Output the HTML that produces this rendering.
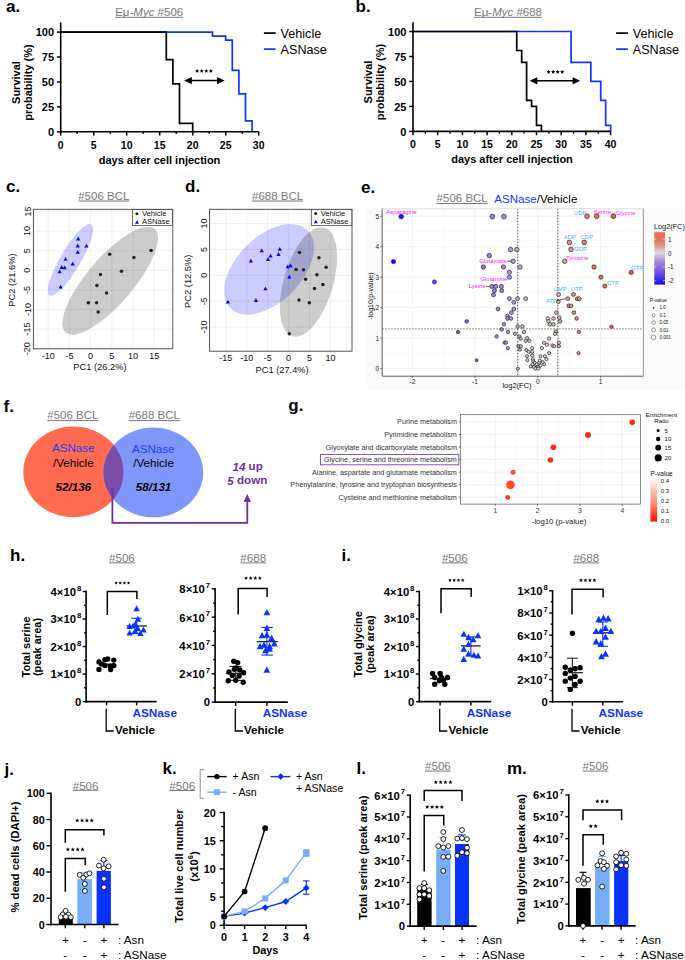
<!DOCTYPE html>
<html><head><meta charset="utf-8"><title>Figure</title>
<style>
html,body{margin:0;padding:0;background:#fff;}
body{width:685px;height:960px;overflow:hidden;}
svg{display:block;font-family:"Liberation Sans", sans-serif;}
</style></head><body>
<svg width="685" height="960" viewBox="0 0 685 960">
<rect x="0" y="0" width="685" height="960" fill="#fff"/>
<text x="6.00" y="12.00" font-size="17" font-weight="bold" fill="#000">a.</text>
<path d="M60.70,32.10 L212.50,32.10 L212.50,36.09 L225.70,36.09 L225.70,40.08 L232.30,40.08 L232.30,70.38 L238.90,70.38 L238.90,93.91 L245.50,93.91 L245.50,120.83 L252.10,120.83 L252.10,131.80 " stroke="#1234ff" stroke-width="1.7" fill="none" />
<path d="M60.70,32.10 L166.30,32.10 L166.30,59.72 L172.90,59.72 L172.90,83.94 L179.50,83.94 L179.50,123.33 L192.70,123.33 L192.70,131.80 " stroke="#000" stroke-width="1.7" fill="none" />
<line x1="60.70" y1="22.50" x2="60.70" y2="132.60" stroke="#000" stroke-width="1.6" />
<line x1="59.90" y1="131.80" x2="258.70" y2="131.80" stroke="#000" stroke-width="1.6" />
<line x1="56.90" y1="131.80" x2="60.70" y2="131.80" stroke="#000" stroke-width="1.5" />
<text x="54.10" y="132.10" font-size="11" text-anchor="end" dominant-baseline="central" fill="#000" style="font-weight:bold;" >0</text>
<line x1="56.90" y1="106.88" x2="60.70" y2="106.88" stroke="#000" stroke-width="1.5" />
<text x="54.10" y="107.18" font-size="11" text-anchor="end" dominant-baseline="central" fill="#000" style="font-weight:bold;" >25</text>
<line x1="56.90" y1="81.95" x2="60.70" y2="81.95" stroke="#000" stroke-width="1.5" />
<text x="54.10" y="82.25" font-size="11" text-anchor="end" dominant-baseline="central" fill="#000" style="font-weight:bold;" >50</text>
<line x1="56.90" y1="57.03" x2="60.70" y2="57.03" stroke="#000" stroke-width="1.5" />
<text x="54.10" y="57.33" font-size="11" text-anchor="end" dominant-baseline="central" fill="#000" style="font-weight:bold;" >75</text>
<line x1="56.90" y1="32.10" x2="60.70" y2="32.10" stroke="#000" stroke-width="1.5" />
<text x="54.10" y="32.40" font-size="11" text-anchor="end" dominant-baseline="central" fill="#000" style="font-weight:bold;" >100</text>
<line x1="60.70" y1="131.80" x2="60.70" y2="135.60" stroke="#000" stroke-width="1.5" />
<text x="60.70" y="144.60" font-size="10.5" text-anchor="middle" dominant-baseline="central" fill="#000" style="font-weight:bold;" >0</text>
<line x1="77.20" y1="131.80" x2="77.20" y2="134.10" stroke="#000" stroke-width="1.3" />
<line x1="93.70" y1="131.80" x2="93.70" y2="135.60" stroke="#000" stroke-width="1.5" />
<text x="93.70" y="144.60" font-size="10.5" text-anchor="middle" dominant-baseline="central" fill="#000" style="font-weight:bold;" >5</text>
<line x1="110.20" y1="131.80" x2="110.20" y2="134.10" stroke="#000" stroke-width="1.3" />
<line x1="126.70" y1="131.80" x2="126.70" y2="135.60" stroke="#000" stroke-width="1.5" />
<text x="126.70" y="144.60" font-size="10.5" text-anchor="middle" dominant-baseline="central" fill="#000" style="font-weight:bold;" >10</text>
<line x1="143.20" y1="131.80" x2="143.20" y2="134.10" stroke="#000" stroke-width="1.3" />
<line x1="159.70" y1="131.80" x2="159.70" y2="135.60" stroke="#000" stroke-width="1.5" />
<text x="159.70" y="144.60" font-size="10.5" text-anchor="middle" dominant-baseline="central" fill="#000" style="font-weight:bold;" >15</text>
<line x1="176.20" y1="131.80" x2="176.20" y2="134.10" stroke="#000" stroke-width="1.3" />
<line x1="192.70" y1="131.80" x2="192.70" y2="135.60" stroke="#000" stroke-width="1.5" />
<text x="192.70" y="144.60" font-size="10.5" text-anchor="middle" dominant-baseline="central" fill="#000" style="font-weight:bold;" >20</text>
<line x1="209.20" y1="131.80" x2="209.20" y2="134.10" stroke="#000" stroke-width="1.3" />
<line x1="225.70" y1="131.80" x2="225.70" y2="135.60" stroke="#000" stroke-width="1.5" />
<text x="225.70" y="144.60" font-size="10.5" text-anchor="middle" dominant-baseline="central" fill="#000" style="font-weight:bold;" >25</text>
<line x1="242.20" y1="131.80" x2="242.20" y2="134.10" stroke="#000" stroke-width="1.3" />
<line x1="258.70" y1="131.80" x2="258.70" y2="135.60" stroke="#000" stroke-width="1.5" />
<text x="258.70" y="144.60" font-size="10.5" text-anchor="middle" dominant-baseline="central" fill="#000" style="font-weight:bold;" >30</text>
<text x="159.50" y="159.80" font-size="11" text-anchor="middle" dominant-baseline="central" fill="#000" style="font-weight:bold;" >days after cell injection</text>
<text x="16.40" y="82.55" font-size="11" text-anchor="middle" dominant-baseline="central" fill="#000" style="font-weight:bold;" transform="rotate(-90 16.40 82.55)" >Survival</text>
<text x="28.30" y="82.55" font-size="11" text-anchor="middle" dominant-baseline="central" fill="#000" style="font-weight:bold;" transform="rotate(-90 28.30 82.55)" >probability (%)</text>
<line x1="188.20" y1="80.60" x2="220.70" y2="80.60" stroke="#000" stroke-width="1.5" />
<path d="M184.20,80.60 L191.80,77.00 L191.80,84.20 Z" stroke="#000" stroke-width="0" fill="#000" />
<path d="M224.70,80.60 L217.10,77.00 L217.10,84.20 Z" stroke="#000" stroke-width="0" fill="#000" />
<polygon points="197.18,68.86 197.77,70.25 199.27,70.38 198.14,71.38 198.47,72.84 197.18,72.08 195.88,72.84 196.21,71.38 195.08,70.38 196.58,70.25" fill="#000"/>
<polygon points="201.73,68.86 202.32,70.25 203.82,70.38 202.69,71.38 203.02,72.84 201.73,72.08 200.43,72.84 200.76,71.38 199.63,70.38 201.13,70.25" fill="#000"/>
<polygon points="206.28,68.86 206.87,70.25 208.37,70.38 207.24,71.38 207.57,72.84 206.28,72.08 204.98,72.84 205.31,71.38 204.18,70.38 205.68,70.25" fill="#000"/>
<polygon points="210.83,68.86 211.42,70.25 212.92,70.38 211.79,71.38 212.12,72.84 210.83,72.08 209.53,72.84 209.86,71.38 208.73,70.38 210.23,70.25" fill="#000"/>
<line x1="263.90" y1="33.10" x2="275.70" y2="33.10" stroke="#000" stroke-width="1.7" />
<text x="280.60" y="33.80" font-size="12.6" text-anchor="start" dominant-baseline="central" fill="#000" style="" >Vehicle</text>
<line x1="263.90" y1="49.10" x2="275.70" y2="49.10" stroke="#1234ff" stroke-width="1.7" />
<text x="280.60" y="49.80" font-size="12.6" text-anchor="start" dominant-baseline="central" fill="#000" style="" >ASNase</text>
<text x="149.20" y="11.7" font-size="11.5" text-anchor="middle" dominant-baseline="central" fill="#7a7a7a">Eμ-<tspan font-style="italic">Myc</tspan> #506</text>
<line x1="115.21" y1="17.30" x2="183.19" y2="17.30" stroke="#7a7a7a" stroke-width="1.0" />
<text x="355.50" y="12.00" font-size="17" font-weight="bold" fill="#000">b.</text>
<path d="M413.00,31.50 L571.08,31.50 L571.08,62.47 L590.84,62.47 L590.84,81.45 L600.72,81.45 L600.72,100.43 L605.66,100.43 L605.66,125.41 L610.60,125.41 L610.60,131.40 " stroke="#1234ff" stroke-width="1.7" fill="none" />
<path d="M413.00,31.50 L516.74,31.50 L516.74,50.48 L521.68,50.48 L521.68,62.47 L526.62,62.47 L526.62,100.43 L531.56,100.43 L531.56,106.43 L536.50,106.43 L536.50,125.41 L541.44,125.41 L541.44,131.40 " stroke="#000" stroke-width="1.7" fill="none" />
<line x1="413.00" y1="22.30" x2="413.00" y2="132.20" stroke="#000" stroke-width="1.6" />
<line x1="412.20" y1="131.40" x2="610.60" y2="131.40" stroke="#000" stroke-width="1.6" />
<line x1="409.20" y1="131.40" x2="413.00" y2="131.40" stroke="#000" stroke-width="1.5" />
<text x="406.40" y="131.70" font-size="11" text-anchor="end" dominant-baseline="central" fill="#000" style="font-weight:bold;" >0</text>
<line x1="409.20" y1="106.43" x2="413.00" y2="106.43" stroke="#000" stroke-width="1.5" />
<text x="406.40" y="106.73" font-size="11" text-anchor="end" dominant-baseline="central" fill="#000" style="font-weight:bold;" >25</text>
<line x1="409.20" y1="81.45" x2="413.00" y2="81.45" stroke="#000" stroke-width="1.5" />
<text x="406.40" y="81.75" font-size="11" text-anchor="end" dominant-baseline="central" fill="#000" style="font-weight:bold;" >50</text>
<line x1="409.20" y1="56.48" x2="413.00" y2="56.48" stroke="#000" stroke-width="1.5" />
<text x="406.40" y="56.78" font-size="11" text-anchor="end" dominant-baseline="central" fill="#000" style="font-weight:bold;" >75</text>
<line x1="409.20" y1="31.50" x2="413.00" y2="31.50" stroke="#000" stroke-width="1.5" />
<text x="406.40" y="31.80" font-size="11" text-anchor="end" dominant-baseline="central" fill="#000" style="font-weight:bold;" >100</text>
<line x1="413.00" y1="131.40" x2="413.00" y2="135.20" stroke="#000" stroke-width="1.5" />
<text x="413.00" y="144.20" font-size="10.5" text-anchor="middle" dominant-baseline="central" fill="#000" style="font-weight:bold;" >0</text>
<line x1="425.35" y1="131.40" x2="425.35" y2="133.70" stroke="#000" stroke-width="1.3" />
<line x1="437.70" y1="131.40" x2="437.70" y2="135.20" stroke="#000" stroke-width="1.5" />
<text x="437.70" y="144.20" font-size="10.5" text-anchor="middle" dominant-baseline="central" fill="#000" style="font-weight:bold;" >5</text>
<line x1="450.05" y1="131.40" x2="450.05" y2="133.70" stroke="#000" stroke-width="1.3" />
<line x1="462.40" y1="131.40" x2="462.40" y2="135.20" stroke="#000" stroke-width="1.5" />
<text x="462.40" y="144.20" font-size="10.5" text-anchor="middle" dominant-baseline="central" fill="#000" style="font-weight:bold;" >10</text>
<line x1="474.75" y1="131.40" x2="474.75" y2="133.70" stroke="#000" stroke-width="1.3" />
<line x1="487.10" y1="131.40" x2="487.10" y2="135.20" stroke="#000" stroke-width="1.5" />
<text x="487.10" y="144.20" font-size="10.5" text-anchor="middle" dominant-baseline="central" fill="#000" style="font-weight:bold;" >15</text>
<line x1="499.45" y1="131.40" x2="499.45" y2="133.70" stroke="#000" stroke-width="1.3" />
<line x1="511.80" y1="131.40" x2="511.80" y2="135.20" stroke="#000" stroke-width="1.5" />
<text x="511.80" y="144.20" font-size="10.5" text-anchor="middle" dominant-baseline="central" fill="#000" style="font-weight:bold;" >20</text>
<line x1="524.15" y1="131.40" x2="524.15" y2="133.70" stroke="#000" stroke-width="1.3" />
<line x1="536.50" y1="131.40" x2="536.50" y2="135.20" stroke="#000" stroke-width="1.5" />
<text x="536.50" y="144.20" font-size="10.5" text-anchor="middle" dominant-baseline="central" fill="#000" style="font-weight:bold;" >25</text>
<line x1="548.85" y1="131.40" x2="548.85" y2="133.70" stroke="#000" stroke-width="1.3" />
<line x1="561.20" y1="131.40" x2="561.20" y2="135.20" stroke="#000" stroke-width="1.5" />
<text x="561.20" y="144.20" font-size="10.5" text-anchor="middle" dominant-baseline="central" fill="#000" style="font-weight:bold;" >30</text>
<line x1="573.55" y1="131.40" x2="573.55" y2="133.70" stroke="#000" stroke-width="1.3" />
<line x1="585.90" y1="131.40" x2="585.90" y2="135.20" stroke="#000" stroke-width="1.5" />
<text x="585.90" y="144.20" font-size="10.5" text-anchor="middle" dominant-baseline="central" fill="#000" style="font-weight:bold;" >35</text>
<line x1="598.25" y1="131.40" x2="598.25" y2="133.70" stroke="#000" stroke-width="1.3" />
<line x1="610.60" y1="131.40" x2="610.60" y2="135.20" stroke="#000" stroke-width="1.5" />
<text x="610.60" y="144.20" font-size="10.5" text-anchor="middle" dominant-baseline="central" fill="#000" style="font-weight:bold;" >40</text>
<text x="512.00" y="159.40" font-size="11" text-anchor="middle" dominant-baseline="central" fill="#000" style="font-weight:bold;" >days after cell injection</text>
<text x="368.00" y="82.05" font-size="11" text-anchor="middle" dominant-baseline="central" fill="#000" style="font-weight:bold;" transform="rotate(-90 368.00 82.05)" >Survival</text>
<text x="379.90" y="82.05" font-size="11" text-anchor="middle" dominant-baseline="central" fill="#000" style="font-weight:bold;" transform="rotate(-90 379.90 82.05)" >probability (%)</text>
<line x1="533.70" y1="80.80" x2="576.20" y2="80.80" stroke="#000" stroke-width="1.5" />
<path d="M529.70,80.80 L537.30,77.20 L537.30,84.40 Z" stroke="#000" stroke-width="0" fill="#000" />
<path d="M580.20,80.80 L572.60,77.20 L572.60,84.40 Z" stroke="#000" stroke-width="0" fill="#000" />
<polygon points="548.57,69.66 549.17,71.05 550.67,71.18 549.54,72.18 549.87,73.64 548.57,72.88 547.28,73.64 547.61,72.18 546.48,71.18 547.98,71.05" fill="#000"/>
<polygon points="553.12,69.66 553.72,71.05 555.22,71.18 554.09,72.18 554.42,73.64 553.12,72.88 551.83,73.64 552.16,72.18 551.03,71.18 552.53,71.05" fill="#000"/>
<polygon points="557.67,69.66 558.27,71.05 559.77,71.18 558.64,72.18 558.97,73.64 557.67,72.88 556.38,73.64 556.71,72.18 555.58,71.18 557.08,71.05" fill="#000"/>
<polygon points="562.22,69.66 562.82,71.05 564.32,71.18 563.19,72.18 563.52,73.64 562.22,72.88 560.93,73.64 561.26,72.18 560.13,71.18 561.63,71.05" fill="#000"/>
<line x1="616.10" y1="33.10" x2="627.90" y2="33.10" stroke="#000" stroke-width="1.7" />
<text x="632.80" y="33.80" font-size="12.6" text-anchor="start" dominant-baseline="central" fill="#000" style="" >Vehicle</text>
<line x1="616.10" y1="49.10" x2="627.90" y2="49.10" stroke="#1234ff" stroke-width="1.7" />
<text x="632.80" y="49.80" font-size="12.6" text-anchor="start" dominant-baseline="central" fill="#000" style="" >ASNase</text>
<text x="508.00" y="11.7" font-size="11.5" text-anchor="middle" dominant-baseline="central" fill="#7a7a7a">Eμ-<tspan font-style="italic">Myc</tspan> #688</text>
<line x1="474.01" y1="17.30" x2="541.99" y2="17.30" stroke="#7a7a7a" stroke-width="1.0" />
<text x="6.00" y="192.00" font-size="17" font-weight="bold" fill="#000">c.</text>
<line x1="48.20" y1="209.30" x2="48.20" y2="348.80" stroke="#e6e6e6" stroke-width="0.6" />
<line x1="69.40" y1="209.30" x2="69.40" y2="348.80" stroke="#e6e6e6" stroke-width="0.6" />
<line x1="90.60" y1="209.30" x2="90.60" y2="348.80" stroke="#e6e6e6" stroke-width="0.6" />
<line x1="111.80" y1="209.30" x2="111.80" y2="348.80" stroke="#e6e6e6" stroke-width="0.6" />
<line x1="133.00" y1="209.30" x2="133.00" y2="348.80" stroke="#e6e6e6" stroke-width="0.6" />
<line x1="154.20" y1="209.30" x2="154.20" y2="348.80" stroke="#e6e6e6" stroke-width="0.6" />
<line x1="33.40" y1="348.70" x2="172.80" y2="348.70" stroke="#e6e6e6" stroke-width="0.6" />
<line x1="33.40" y1="329.10" x2="172.80" y2="329.10" stroke="#e6e6e6" stroke-width="0.6" />
<line x1="33.40" y1="309.50" x2="172.80" y2="309.50" stroke="#e6e6e6" stroke-width="0.6" />
<line x1="33.40" y1="289.90" x2="172.80" y2="289.90" stroke="#e6e6e6" stroke-width="0.6" />
<line x1="33.40" y1="270.30" x2="172.80" y2="270.30" stroke="#e6e6e6" stroke-width="0.6" />
<line x1="33.40" y1="250.70" x2="172.80" y2="250.70" stroke="#e6e6e6" stroke-width="0.6" />
<line x1="33.40" y1="231.10" x2="172.80" y2="231.10" stroke="#e6e6e6" stroke-width="0.6" />
<line x1="33.40" y1="211.50" x2="172.80" y2="211.50" stroke="#e6e6e6" stroke-width="0.6" />
<ellipse cx="70.4" cy="259.9" rx="41.2" ry="10.2" transform="rotate(-59.5 70.4 259.9)" fill="rgba(0,0,255,0.2)"/>
<ellipse cx="110.2" cy="280.75" rx="68.3" ry="23.2" transform="rotate(-49.4 110.2 280.75)" fill="rgba(0,0,0,0.2)"/>
<circle cx="109.70" cy="254.30" r="1.75" fill="#222" stroke="none" stroke-width="0" />
<circle cx="151.10" cy="250.40" r="1.75" fill="#222" stroke="none" stroke-width="0" />
<circle cx="133.90" cy="257.50" r="1.75" fill="#222" stroke="none" stroke-width="0" />
<circle cx="121.50" cy="271.20" r="1.75" fill="#222" stroke="none" stroke-width="0" />
<circle cx="100.40" cy="274.60" r="1.75" fill="#222" stroke="none" stroke-width="0" />
<circle cx="96.90" cy="285.40" r="1.75" fill="#222" stroke="none" stroke-width="0" />
<circle cx="106.50" cy="293.00" r="1.75" fill="#222" stroke="none" stroke-width="0" />
<circle cx="88.30" cy="302.80" r="1.75" fill="#222" stroke="none" stroke-width="0" />
<circle cx="96.60" cy="302.80" r="1.75" fill="#222" stroke="none" stroke-width="0" />
<circle cx="98.20" cy="312.00" r="1.75" fill="#222" stroke="none" stroke-width="0" />
<path d="M76.10,240.39 L80.30,240.39 L78.20,236.61 Z" fill="#0000ff"/>
<path d="M75.60,247.39 L79.80,247.39 L77.70,243.61 Z" fill="#0000ff"/>
<path d="M84.40,247.59 L88.60,247.59 L86.50,243.81 Z" fill="#0000ff"/>
<path d="M75.60,253.79 L79.80,253.79 L77.70,250.01 Z" fill="#0000ff"/>
<path d="M63.40,260.79 L67.60,260.79 L65.50,257.01 Z" fill="#0000ff"/>
<path d="M70.60,265.39 L74.80,265.39 L72.70,261.61 Z" fill="#0000ff"/>
<path d="M59.60,268.89 L63.80,268.89 L61.70,265.11 Z" fill="#0000ff"/>
<path d="M62.50,269.29 L66.70,269.29 L64.60,265.51 Z" fill="#0000ff"/>
<path d="M57.50,273.29 L61.70,273.29 L59.60,269.51 Z" fill="#0000ff"/>
<path d="M58.60,288.59 L62.80,288.59 L60.70,284.81 Z" fill="#0000ff"/>
<rect x="33.40" y="209.30" width="139.40" height="139.50" fill="none" stroke="#444" stroke-width="0.9" />
<text x="48.20" y="355.90" font-size="9.0" text-anchor="middle" dominant-baseline="central" fill="#111" style="" >-10</text>
<text x="69.40" y="355.90" font-size="9.0" text-anchor="middle" dominant-baseline="central" fill="#111" style="" >-5</text>
<text x="90.60" y="355.90" font-size="9.0" text-anchor="middle" dominant-baseline="central" fill="#111" style="" >0</text>
<text x="111.80" y="355.90" font-size="9.0" text-anchor="middle" dominant-baseline="central" fill="#111" style="" >5</text>
<text x="133.00" y="355.90" font-size="9.0" text-anchor="middle" dominant-baseline="central" fill="#111" style="" >10</text>
<text x="154.20" y="355.90" font-size="9.0" text-anchor="middle" dominant-baseline="central" fill="#111" style="" >15</text>
<text x="27.50" y="348.70" font-size="9.0" text-anchor="middle" dominant-baseline="central" fill="#111" style="" transform="rotate(-90 27.50 348.70)" >-20</text>
<text x="27.50" y="329.10" font-size="9.0" text-anchor="middle" dominant-baseline="central" fill="#111" style="" transform="rotate(-90 27.50 329.10)" >-15</text>
<text x="27.50" y="309.50" font-size="9.0" text-anchor="middle" dominant-baseline="central" fill="#111" style="" transform="rotate(-90 27.50 309.50)" >-10</text>
<text x="27.50" y="289.90" font-size="9.0" text-anchor="middle" dominant-baseline="central" fill="#111" style="" transform="rotate(-90 27.50 289.90)" >-5</text>
<text x="27.50" y="270.30" font-size="9.0" text-anchor="middle" dominant-baseline="central" fill="#111" style="" transform="rotate(-90 27.50 270.30)" >0</text>
<text x="27.50" y="250.70" font-size="9.0" text-anchor="middle" dominant-baseline="central" fill="#111" style="" transform="rotate(-90 27.50 250.70)" >5</text>
<text x="27.50" y="231.10" font-size="9.0" text-anchor="middle" dominant-baseline="central" fill="#111" style="" transform="rotate(-90 27.50 231.10)" >10</text>
<text x="27.50" y="211.50" font-size="9.0" text-anchor="middle" dominant-baseline="central" fill="#111" style="" transform="rotate(-90 27.50 211.50)" >15</text>
<text x="99.90" y="367.40" font-size="9.3" text-anchor="middle" dominant-baseline="central" fill="#111" style="" >PC1 (26.2%)</text>
<text x="11.70" y="280.05" font-size="9.3" text-anchor="middle" dominant-baseline="central" fill="#111" style="" transform="rotate(-90 11.70 280.05)" >PC2 (21.6%)</text>
<rect x="132.50" y="209.70" width="39.90" height="15.90" fill="#fff" stroke="#333" stroke-width="0.7" />
<circle cx="136.90" cy="213.70" r="1.5" fill="#222" stroke="none" stroke-width="0" />
<text x="141.90" y="213.60" font-size="7.6" text-anchor="start" dominant-baseline="central" fill="#111" style="" >Vehicle</text>
<path d="M135.05,223.65 L138.95,223.65 L137.00,220.14 Z" fill="#0000ff"/>
<text x="141.90" y="221.40" font-size="7.6" text-anchor="start" dominant-baseline="central" fill="#111" style="" >ASNase</text>
<text x="103.80" y="195.70" font-size="11.5" text-anchor="middle" dominant-baseline="central" fill="#7a7a7a" style="" >#506 BCL</text>
<line x1="78.23" y1="201.00" x2="129.37" y2="201.00" stroke="#7a7a7a" stroke-width="1.0" />
<text x="185.00" y="192.00" font-size="17" font-weight="bold" fill="#000">d.</text>
<line x1="225.75" y1="209.30" x2="225.75" y2="351.20" stroke="#e6e6e6" stroke-width="0.6" />
<line x1="246.70" y1="209.30" x2="246.70" y2="351.20" stroke="#e6e6e6" stroke-width="0.6" />
<line x1="267.65" y1="209.30" x2="267.65" y2="351.20" stroke="#e6e6e6" stroke-width="0.6" />
<line x1="288.60" y1="209.30" x2="288.60" y2="351.20" stroke="#e6e6e6" stroke-width="0.6" />
<line x1="309.55" y1="209.30" x2="309.55" y2="351.20" stroke="#e6e6e6" stroke-width="0.6" />
<line x1="330.50" y1="209.30" x2="330.50" y2="351.20" stroke="#e6e6e6" stroke-width="0.6" />
<line x1="209.60" y1="327.10" x2="352.00" y2="327.10" stroke="#e6e6e6" stroke-width="0.6" />
<line x1="209.60" y1="301.20" x2="352.00" y2="301.20" stroke="#e6e6e6" stroke-width="0.6" />
<line x1="209.60" y1="275.30" x2="352.00" y2="275.30" stroke="#e6e6e6" stroke-width="0.6" />
<line x1="209.60" y1="249.40" x2="352.00" y2="249.40" stroke="#e6e6e6" stroke-width="0.6" />
<line x1="209.60" y1="223.50" x2="352.00" y2="223.50" stroke="#e6e6e6" stroke-width="0.6" />
<ellipse cx="269.1" cy="269.3" rx="54.8" ry="32.6" transform="rotate(-45.5 269.1 269.3)" fill="rgba(0,0,255,0.2)"/>
<ellipse cx="308.5" cy="281.9" rx="56.6" ry="24.7" transform="rotate(-73.5 308.5 281.9)" fill="rgba(0,0,0,0.2)"/>
<circle cx="299.50" cy="252.50" r="1.75" fill="#222" stroke="none" stroke-width="0" />
<circle cx="319.00" cy="257.80" r="1.75" fill="#222" stroke="none" stroke-width="0" />
<circle cx="296.10" cy="269.60" r="1.75" fill="#222" stroke="none" stroke-width="0" />
<circle cx="303.50" cy="269.80" r="1.75" fill="#222" stroke="none" stroke-width="0" />
<circle cx="326.10" cy="267.20" r="1.75" fill="#222" stroke="none" stroke-width="0" />
<circle cx="305.60" cy="279.30" r="1.75" fill="#222" stroke="none" stroke-width="0" />
<circle cx="316.90" cy="274.80" r="1.75" fill="#222" stroke="none" stroke-width="0" />
<circle cx="322.90" cy="284.60" r="1.75" fill="#222" stroke="none" stroke-width="0" />
<circle cx="314.50" cy="288.50" r="1.75" fill="#222" stroke="none" stroke-width="0" />
<circle cx="299.00" cy="300.00" r="1.75" fill="#222" stroke="none" stroke-width="0" />
<circle cx="309.30" cy="302.70" r="1.75" fill="#222" stroke="none" stroke-width="0" />
<circle cx="289.30" cy="333.70" r="1.75" fill="#222" stroke="none" stroke-width="0" />
<path d="M277.70,250.69 L281.90,250.69 L279.80,246.91 Z" fill="#0000ff"/>
<path d="M259.60,252.19 L263.80,252.19 L261.70,248.41 Z" fill="#0000ff"/>
<path d="M268.50,257.49 L272.70,257.49 L270.60,253.71 Z" fill="#0000ff"/>
<path d="M265.90,260.89 L270.10,260.89 L268.00,257.11 Z" fill="#0000ff"/>
<path d="M276.40,255.89 L280.60,255.89 L278.50,252.11 Z" fill="#0000ff"/>
<path d="M248.80,262.49 L253.00,262.49 L250.90,258.71 Z" fill="#0000ff"/>
<path d="M285.60,268.29 L289.80,268.29 L287.70,264.51 Z" fill="#0000ff"/>
<path d="M288.30,267.19 L292.50,267.19 L290.40,263.41 Z" fill="#0000ff"/>
<path d="M287.20,278.49 L291.40,278.49 L289.30,274.71 Z" fill="#0000ff"/>
<path d="M263.30,290.29 L267.50,290.29 L265.40,286.51 Z" fill="#0000ff"/>
<path d="M253.80,301.89 L258.00,301.89 L255.90,298.11 Z" fill="#0000ff"/>
<path d="M225.70,303.49 L229.90,303.49 L227.80,299.71 Z" fill="#0000ff"/>
<rect x="209.60" y="209.30" width="142.40" height="141.90" fill="none" stroke="#444" stroke-width="0.9" />
<text x="225.75" y="358.00" font-size="9.0" text-anchor="middle" dominant-baseline="central" fill="#111" style="" >-15</text>
<text x="246.70" y="358.00" font-size="9.0" text-anchor="middle" dominant-baseline="central" fill="#111" style="" >-10</text>
<text x="267.65" y="358.00" font-size="9.0" text-anchor="middle" dominant-baseline="central" fill="#111" style="" >-5</text>
<text x="288.60" y="358.00" font-size="9.0" text-anchor="middle" dominant-baseline="central" fill="#111" style="" >0</text>
<text x="309.55" y="358.00" font-size="9.0" text-anchor="middle" dominant-baseline="central" fill="#111" style="" >5</text>
<text x="330.50" y="358.00" font-size="9.0" text-anchor="middle" dominant-baseline="central" fill="#111" style="" >10</text>
<text x="203.80" y="327.10" font-size="9.0" text-anchor="middle" dominant-baseline="central" fill="#111" style="" transform="rotate(-90 203.80 327.10)" >-10</text>
<text x="203.80" y="301.20" font-size="9.0" text-anchor="middle" dominant-baseline="central" fill="#111" style="" transform="rotate(-90 203.80 301.20)" >-5</text>
<text x="203.80" y="275.30" font-size="9.0" text-anchor="middle" dominant-baseline="central" fill="#111" style="" transform="rotate(-90 203.80 275.30)" >0</text>
<text x="203.80" y="249.40" font-size="9.0" text-anchor="middle" dominant-baseline="central" fill="#111" style="" transform="rotate(-90 203.80 249.40)" >5</text>
<text x="203.80" y="223.50" font-size="9.0" text-anchor="middle" dominant-baseline="central" fill="#111" style="" transform="rotate(-90 203.80 223.50)" >10</text>
<text x="282.10" y="369.70" font-size="9.3" text-anchor="middle" dominant-baseline="central" fill="#111" style="" >PC1 (27.4%)</text>
<text x="188.00" y="281.25" font-size="9.3" text-anchor="middle" dominant-baseline="central" fill="#111" style="" transform="rotate(-90 188.00 281.25)" >PC2 (12.5%)</text>
<rect x="311.30" y="209.40" width="40.50" height="16.20" fill="#fff" stroke="#333" stroke-width="0.7" />
<circle cx="315.70" cy="213.40" r="1.5" fill="#222" stroke="none" stroke-width="0" />
<text x="320.70" y="213.30" font-size="7.6" text-anchor="start" dominant-baseline="central" fill="#111" style="" >Vehicle</text>
<path d="M313.85,223.35 L317.75,223.35 L315.80,219.84 Z" fill="#0000ff"/>
<text x="320.70" y="221.10" font-size="7.6" text-anchor="start" dominant-baseline="central" fill="#111" style="" >ASNase</text>
<text x="277.60" y="195.70" font-size="11.5" text-anchor="middle" dominant-baseline="central" fill="#7a7a7a" style="" >#688 BCL</text>
<line x1="252.03" y1="201.00" x2="303.17" y2="201.00" stroke="#7a7a7a" stroke-width="1.0" />
<text x="361.00" y="192.50" font-size="17" font-weight="bold" fill="#000">e.</text>
<rect x="366.90" y="207.30" width="318.10" height="182.60" fill="#fbfbfb" stroke="none" stroke-width="0" />
<rect x="382.20" y="208.70" width="261.10" height="167.50" fill="#fff" stroke="none" stroke-width="0" />
<line x1="412.40" y1="208.70" x2="412.40" y2="376.20" stroke="#e6e6e6" stroke-width="0.5" />
<line x1="443.75" y1="208.70" x2="443.75" y2="376.20" stroke="#f0f0f0" stroke-width="0.35" />
<line x1="475.10" y1="208.70" x2="475.10" y2="376.20" stroke="#e6e6e6" stroke-width="0.5" />
<line x1="506.45" y1="208.70" x2="506.45" y2="376.20" stroke="#f0f0f0" stroke-width="0.35" />
<line x1="537.80" y1="208.70" x2="537.80" y2="376.20" stroke="#e6e6e6" stroke-width="0.5" />
<line x1="569.15" y1="208.70" x2="569.15" y2="376.20" stroke="#f0f0f0" stroke-width="0.35" />
<line x1="600.50" y1="208.70" x2="600.50" y2="376.20" stroke="#e6e6e6" stroke-width="0.5" />
<line x1="631.85" y1="208.70" x2="631.85" y2="376.20" stroke="#f0f0f0" stroke-width="0.35" />
<line x1="382.20" y1="368.50" x2="643.30" y2="368.50" stroke="#e6e6e6" stroke-width="0.5" />
<line x1="382.20" y1="353.27" x2="643.30" y2="353.27" stroke="#f0f0f0" stroke-width="0.35" />
<line x1="382.20" y1="338.05" x2="643.30" y2="338.05" stroke="#e6e6e6" stroke-width="0.5" />
<line x1="382.20" y1="322.82" x2="643.30" y2="322.82" stroke="#f0f0f0" stroke-width="0.35" />
<line x1="382.20" y1="307.60" x2="643.30" y2="307.60" stroke="#e6e6e6" stroke-width="0.5" />
<line x1="382.20" y1="292.38" x2="643.30" y2="292.38" stroke="#f0f0f0" stroke-width="0.35" />
<line x1="382.20" y1="277.15" x2="643.30" y2="277.15" stroke="#e6e6e6" stroke-width="0.5" />
<line x1="382.20" y1="261.93" x2="643.30" y2="261.93" stroke="#f0f0f0" stroke-width="0.35" />
<line x1="382.20" y1="246.70" x2="643.30" y2="246.70" stroke="#e6e6e6" stroke-width="0.5" />
<line x1="382.20" y1="231.47" x2="643.30" y2="231.47" stroke="#f0f0f0" stroke-width="0.35" />
<line x1="382.20" y1="216.25" x2="643.30" y2="216.25" stroke="#e6e6e6" stroke-width="0.5" />
<line x1="517.74" y1="208.70" x2="517.74" y2="376.20" stroke="#222" stroke-width="0.8" stroke-dasharray="1.6,1.4"/>
<line x1="557.86" y1="208.70" x2="557.86" y2="376.20" stroke="#222" stroke-width="0.8" stroke-dasharray="1.6,1.4"/>
<line x1="382.20" y1="328.88" x2="643.30" y2="328.88" stroke="#555" stroke-width="0.8" stroke-dasharray="1.6,1.4"/>
<circle cx="401.20" cy="216.60" r="2.4" fill="#1e15f6" stroke="#2020a0" stroke-width="0.62" />
<circle cx="393.50" cy="261.60" r="2.2" fill="#0d09fb" stroke="#2020a0" stroke-width="0.62" />
<circle cx="434.40" cy="281.90" r="2.07" fill="#6446e1" stroke="#2020a0" stroke-width="0.62" />
<circle cx="466.70" cy="321.40" r="1.81" fill="#8462dd" stroke="#151515" stroke-width="0.62" />
<circle cx="458.00" cy="332.10" r="1.74" fill="#7b5ade" stroke="#151515" stroke-width="0.62" />
<circle cx="476.60" cy="360.20" r="1.55" fill="#8e6bdc" stroke="#151515" stroke-width="0.62" />
<circle cx="492.30" cy="216.60" r="2.4" fill="#9e7bdc" stroke="#151515" stroke-width="0.62" />
<circle cx="503.90" cy="216.60" r="2.4" fill="#aa8bd8" stroke="#151515" stroke-width="0.62" />
<circle cx="510.60" cy="249.60" r="2.28" fill="#b198d8" stroke="#151515" stroke-width="0.62" />
<circle cx="516.80" cy="249.60" r="2.28" fill="#b9a6d9" stroke="#151515" stroke-width="0.62" />
<circle cx="489.30" cy="255.60" r="2.24" fill="#9b78dc" stroke="#151515" stroke-width="0.62" />
<circle cx="513.10" cy="261.30" r="2.2" fill="#b49dd8" stroke="#151515" stroke-width="0.62" />
<circle cx="483.30" cy="267.00" r="2.17" fill="#9572dc" stroke="#151515" stroke-width="0.62" />
<circle cx="503.40" cy="267.00" r="2.17" fill="#a98ad8" stroke="#151515" stroke-width="0.62" />
<circle cx="520.00" cy="267.00" r="2.17" fill="#bdadda" stroke="#151515" stroke-width="0.62" />
<circle cx="509.40" cy="272.20" r="2.13" fill="#b095d8" stroke="#151515" stroke-width="0.62" />
<circle cx="509.40" cy="277.20" r="2.1" fill="#b095d8" stroke="#151515" stroke-width="0.62" />
<circle cx="491.80" cy="286.40" r="2.04" fill="#9e7bdc" stroke="#151515" stroke-width="0.62" />
<circle cx="495.70" cy="286.40" r="2.04" fill="#a27fdb" stroke="#151515" stroke-width="0.62" />
<circle cx="501.40" cy="286.40" r="2.04" fill="#a787d9" stroke="#151515" stroke-width="0.62" />
<circle cx="494.50" cy="290.60" r="2.01" fill="#a17edc" stroke="#151515" stroke-width="0.62" />
<circle cx="501.70" cy="290.60" r="2.01" fill="#a788d9" stroke="#151515" stroke-width="0.62" />
<circle cx="493.50" cy="294.80" r="1.98" fill="#a07ddc" stroke="#151515" stroke-width="0.62" />
<circle cx="509.40" cy="298.60" r="1.96" fill="#b095d8" stroke="#151515" stroke-width="0.62" />
<circle cx="517.60" cy="298.60" r="1.96" fill="#baa8d9" stroke="#151515" stroke-width="0.62" />
<circle cx="525.70" cy="298.60" r="1.96" fill="#c7bbdb" stroke="#151515" stroke-width="0.62" />
<circle cx="513.80" cy="302.30" r="1.93" fill="#b59fd8" stroke="#151515" stroke-width="0.62" />
<circle cx="498.00" cy="309.00" r="1.89" fill="#a483da" stroke="#151515" stroke-width="0.62" />
<circle cx="513.80" cy="309.00" r="1.89" fill="#b59fd8" stroke="#151515" stroke-width="0.62" />
<circle cx="511.40" cy="312.60" r="1.87" fill="#b299d8" stroke="#151515" stroke-width="0.62" />
<circle cx="507.50" cy="316.00" r="1.84" fill="#ad90d7" stroke="#151515" stroke-width="0.62" />
<circle cx="507.50" cy="318.50" r="1.83" fill="#ad90d7" stroke="#151515" stroke-width="0.62" />
<circle cx="510.90" cy="318.50" r="1.83" fill="#b298d8" stroke="#151515" stroke-width="0.62" />
<circle cx="503.90" cy="324.30" r="1.79" fill="#aa8bd8" stroke="#151515" stroke-width="0.62" />
<circle cx="501.70" cy="329.40" r="1.76" fill="#a788d9" stroke="#151515" stroke-width="0.62" />
<circle cx="517.70" cy="326.50" r="1.78" fill="#baa8d9" stroke="#151515" stroke-width="0.62" />
<circle cx="522.40" cy="326.50" r="1.78" fill="#c1b3da" stroke="#151515" stroke-width="0.62" />
<circle cx="508.00" cy="332.00" r="1.74" fill="#ae92d7" stroke="#151515" stroke-width="0.62" />
<circle cx="515.10" cy="333.80" r="1.73" fill="#b7a2d9" stroke="#151515" stroke-width="0.62" />
<circle cx="524.00" cy="331.90" r="1.74" fill="#c4b7da" stroke="#151515" stroke-width="0.62" />
<circle cx="496.60" cy="336.40" r="1.71" fill="#a381db" stroke="#151515" stroke-width="0.62" />
<circle cx="519.20" cy="336.40" r="1.71" fill="#bcabd9" stroke="#151515" stroke-width="0.62" />
<circle cx="520.70" cy="338.60" r="1.7" fill="#beafda" stroke="#151515" stroke-width="0.62" />
<circle cx="527.20" cy="338.20" r="1.7" fill="#cabfdb" stroke="#151515" stroke-width="0.62" />
<circle cx="529.40" cy="340.80" r="1.68" fill="#cec5dc" stroke="#151515" stroke-width="0.62" />
<circle cx="525.80" cy="340.80" r="1.68" fill="#c7bbdb" stroke="#151515" stroke-width="0.62" />
<circle cx="504.60" cy="342.60" r="1.67" fill="#aa8bd8" stroke="#151515" stroke-width="0.62" />
<circle cx="506.10" cy="342.60" r="1.67" fill="#ac8ed7" stroke="#151515" stroke-width="0.62" />
<circle cx="518.50" cy="346.20" r="1.65" fill="#bbaad9" stroke="#151515" stroke-width="0.62" />
<circle cx="520.70" cy="346.20" r="1.65" fill="#beafda" stroke="#151515" stroke-width="0.62" />
<circle cx="519.90" cy="349.60" r="1.62" fill="#bdadda" stroke="#151515" stroke-width="0.62" />
<circle cx="507.80" cy="348.10" r="1.63" fill="#ae91d7" stroke="#151515" stroke-width="0.62" />
<circle cx="526.30" cy="350.00" r="1.62" fill="#c8bddb" stroke="#151515" stroke-width="0.62" />
<circle cx="532.20" cy="348.10" r="1.63" fill="#d3ccdd" stroke="#151515" stroke-width="0.62" />
<circle cx="528.90" cy="351.80" r="1.61" fill="#cdc3dc" stroke="#151515" stroke-width="0.62" />
<circle cx="532.20" cy="351.80" r="1.61" fill="#d3ccdd" stroke="#151515" stroke-width="0.62" />
<circle cx="527.00" cy="356.20" r="1.55" fill="#c9bedb" stroke="#151515" stroke-width="0.62" />
<circle cx="532.20" cy="355.40" r="1.55" fill="#d3ccdd" stroke="#151515" stroke-width="0.62" />
<circle cx="527.40" cy="360.20" r="1.55" fill="#cabfdb" stroke="#151515" stroke-width="0.62" />
<circle cx="532.90" cy="359.10" r="1.55" fill="#d5cddd" stroke="#151515" stroke-width="0.62" />
<circle cx="533.20" cy="361.30" r="1.55" fill="#d5cedd" stroke="#151515" stroke-width="0.62" />
<circle cx="534.70" cy="362.70" r="1.55" fill="#d8d2dd" stroke="#151515" stroke-width="0.62" />
<circle cx="532.50" cy="364.20" r="1.55" fill="#d4ccdd" stroke="#151515" stroke-width="0.62" />
<circle cx="536.20" cy="365.70" r="1.55" fill="#dbd6de" stroke="#151515" stroke-width="0.62" />
<circle cx="534.00" cy="367.10" r="1.55" fill="#d7d0dd" stroke="#151515" stroke-width="0.62" />
<circle cx="535.40" cy="368.60" r="1.55" fill="#d9d4dd" stroke="#151515" stroke-width="0.62" />
<circle cx="538.40" cy="367.10" r="1.55" fill="#ded9dc" stroke="#151515" stroke-width="0.62" />
<circle cx="536.90" cy="364.20" r="1.55" fill="#dcd8de" stroke="#151515" stroke-width="0.62" />
<circle cx="539.10" cy="362.70" r="1.55" fill="#ded8db" stroke="#151515" stroke-width="0.62" />
<circle cx="539.80" cy="360.50" r="1.55" fill="#ded6d9" stroke="#151515" stroke-width="0.62" />
<circle cx="540.50" cy="365.70" r="1.55" fill="#ded5d7" stroke="#151515" stroke-width="0.62" />
<circle cx="538.40" cy="368.60" r="1.55" fill="#ded9dc" stroke="#151515" stroke-width="0.62" />
<circle cx="530.70" cy="366.40" r="1.55" fill="#d0c8dc" stroke="#151515" stroke-width="0.62" />
<circle cx="517.90" cy="368.60" r="1.55" fill="#bba8d9" stroke="#151515" stroke-width="0.62" />
<circle cx="540.50" cy="356.20" r="1.55" fill="#ded5d7" stroke="#151515" stroke-width="0.62" />
<circle cx="544.90" cy="356.20" r="1.55" fill="#ddcdcc" stroke="#151515" stroke-width="0.62" />
<circle cx="546.40" cy="359.10" r="1.55" fill="#ddcbc8" stroke="#151515" stroke-width="0.62" />
<circle cx="544.20" cy="364.20" r="1.55" fill="#ddcfce" stroke="#151515" stroke-width="0.62" />
<circle cx="542.70" cy="362.00" r="1.55" fill="#ddd1d1" stroke="#151515" stroke-width="0.62" />
<circle cx="542.00" cy="348.10" r="1.63" fill="#ddd2d3" stroke="#151515" stroke-width="0.62" />
<circle cx="587.00" cy="216.20" r="2.4" fill="#e47e66" stroke="#151515" stroke-width="0.62" />
<circle cx="596.70" cy="216.20" r="2.4" fill="#e7725a" stroke="#151515" stroke-width="0.62" />
<circle cx="613.40" cy="216.20" r="2.4" fill="#eb5c42" stroke="#151515" stroke-width="0.62" />
<circle cx="569.40" cy="242.40" r="2.33" fill="#d79b8b" stroke="#151515" stroke-width="0.62" />
<circle cx="584.30" cy="242.40" r="2.33" fill="#e3816a" stroke="#151515" stroke-width="0.62" />
<circle cx="571.00" cy="249.40" r="2.28" fill="#d89888" stroke="#151515" stroke-width="0.62" />
<circle cx="564.80" cy="261.30" r="2.2" fill="#d8a598" stroke="#151515" stroke-width="0.62" />
<circle cx="594.00" cy="267.00" r="2.17" fill="#e6755d" stroke="#151515" stroke-width="0.62" />
<circle cx="631.20" cy="272.40" r="2.13" fill="#ef5036" stroke="#151515" stroke-width="0.62" />
<circle cx="601.00" cy="277.20" r="2.1" fill="#e86d54" stroke="#151515" stroke-width="0.62" />
<circle cx="604.80" cy="286.10" r="2.04" fill="#e9684e" stroke="#151515" stroke-width="0.62" />
<circle cx="558.60" cy="294.50" r="1.99" fill="#dab3a8" stroke="#151515" stroke-width="0.62" />
<circle cx="573.50" cy="294.50" r="1.99" fill="#da9482" stroke="#151515" stroke-width="0.62" />
<circle cx="567.80" cy="298.60" r="1.96" fill="#d79e90" stroke="#151515" stroke-width="0.62" />
<circle cx="577.30" cy="298.80" r="1.96" fill="#dd8d7a" stroke="#151515" stroke-width="0.62" />
<circle cx="579.30" cy="298.80" r="1.96" fill="#df8a75" stroke="#151515" stroke-width="0.62" />
<circle cx="558.30" cy="301.60" r="1.94" fill="#dab3a9" stroke="#151515" stroke-width="0.62" />
<circle cx="568.80" cy="305.80" r="1.91" fill="#d79c8d" stroke="#151515" stroke-width="0.62" />
<circle cx="571.00" cy="305.80" r="1.91" fill="#d89888" stroke="#151515" stroke-width="0.62" />
<circle cx="556.40" cy="312.60" r="1.87" fill="#dbb7ae" stroke="#151515" stroke-width="0.62" />
<circle cx="573.90" cy="312.60" r="1.87" fill="#db9381" stroke="#151515" stroke-width="0.62" />
<circle cx="547.70" cy="318.50" r="1.83" fill="#ddc8c5" stroke="#151515" stroke-width="0.62" />
<circle cx="553.50" cy="318.50" r="1.83" fill="#dcbeb6" stroke="#151515" stroke-width="0.62" />
<circle cx="559.30" cy="317.70" r="1.83" fill="#dab1a6" stroke="#151515" stroke-width="0.62" />
<circle cx="576.60" cy="318.50" r="1.83" fill="#dd8e7b" stroke="#151515" stroke-width="0.62" />
<circle cx="548.40" cy="321.40" r="1.81" fill="#ddc7c3" stroke="#151515" stroke-width="0.62" />
<circle cx="560.10" cy="321.40" r="1.81" fill="#daafa4" stroke="#151515" stroke-width="0.62" />
<circle cx="549.90" cy="324.30" r="1.79" fill="#dcc4bf" stroke="#151515" stroke-width="0.62" />
<circle cx="553.50" cy="324.30" r="1.79" fill="#dcbeb6" stroke="#151515" stroke-width="0.62" />
<circle cx="556.00" cy="331.60" r="1.74" fill="#dbb8af" stroke="#151515" stroke-width="0.62" />
<circle cx="555.00" cy="333.80" r="1.73" fill="#dcbbb2" stroke="#151515" stroke-width="0.62" />
<circle cx="578.80" cy="331.90" r="1.74" fill="#de8a76" stroke="#151515" stroke-width="0.62" />
<circle cx="611.50" cy="326.70" r="1.77" fill="#eb5e44" stroke="#151515" stroke-width="0.62" />
<circle cx="549.10" cy="338.50" r="1.7" fill="#ddc6c1" stroke="#151515" stroke-width="0.62" />
<circle cx="544.00" cy="342.80" r="1.67" fill="#ddcfce" stroke="#151515" stroke-width="0.62" />
<circle cx="546.90" cy="344.70" r="1.66" fill="#ddcac7" stroke="#151515" stroke-width="0.62" />
<circle cx="552.50" cy="345.50" r="1.65" fill="#dcc0b8" stroke="#151515" stroke-width="0.62" />
<circle cx="554.20" cy="346.20" r="1.65" fill="#dcbcb4" stroke="#151515" stroke-width="0.62" />
<circle cx="558.90" cy="342.80" r="1.67" fill="#dab2a7" stroke="#151515" stroke-width="0.62" />
<circle cx="558.90" cy="346.20" r="1.65" fill="#dab2a7" stroke="#151515" stroke-width="0.62" />
<circle cx="549.10" cy="353.10" r="1.6" fill="#ddc6c1" stroke="#151515" stroke-width="0.62" />
<circle cx="578.50" cy="353.10" r="1.6" fill="#de8b77" stroke="#151515" stroke-width="0.62" />
<line x1="382.20" y1="208.70" x2="382.20" y2="376.20" stroke="#333" stroke-width="0.8" />
<line x1="382.20" y1="376.20" x2="643.30" y2="376.20" stroke="#333" stroke-width="0.8" />
<line x1="643.30" y1="208.70" x2="643.30" y2="376.20" stroke="#888" stroke-width="0.9" />
<line x1="382.20" y1="208.70" x2="643.30" y2="208.70" stroke="#d8d8d8" stroke-width="0.8" />
<line x1="380.20" y1="368.50" x2="382.20" y2="368.50" stroke="#333" stroke-width="0.6" />
<text x="379.20" y="368.50" font-size="6.5" text-anchor="end" dominant-baseline="central" fill="#222" style="" >0</text>
<line x1="380.20" y1="338.05" x2="382.20" y2="338.05" stroke="#333" stroke-width="0.6" />
<text x="379.20" y="338.05" font-size="6.5" text-anchor="end" dominant-baseline="central" fill="#222" style="" >1</text>
<line x1="380.20" y1="307.60" x2="382.20" y2="307.60" stroke="#333" stroke-width="0.6" />
<text x="379.20" y="307.60" font-size="6.5" text-anchor="end" dominant-baseline="central" fill="#222" style="" >2</text>
<line x1="380.20" y1="277.15" x2="382.20" y2="277.15" stroke="#333" stroke-width="0.6" />
<text x="379.20" y="277.15" font-size="6.5" text-anchor="end" dominant-baseline="central" fill="#222" style="" >3</text>
<line x1="380.20" y1="246.70" x2="382.20" y2="246.70" stroke="#333" stroke-width="0.6" />
<text x="379.20" y="246.70" font-size="6.5" text-anchor="end" dominant-baseline="central" fill="#222" style="" >4</text>
<line x1="380.20" y1="216.25" x2="382.20" y2="216.25" stroke="#333" stroke-width="0.6" />
<text x="379.20" y="216.25" font-size="6.5" text-anchor="end" dominant-baseline="central" fill="#222" style="" >5</text>
<line x1="412.40" y1="376.20" x2="412.40" y2="378.20" stroke="#333" stroke-width="0.6" />
<text x="412.40" y="381.20" font-size="6.5" text-anchor="middle" dominant-baseline="central" fill="#222" style="" >-2</text>
<line x1="475.10" y1="376.20" x2="475.10" y2="378.20" stroke="#333" stroke-width="0.6" />
<text x="475.10" y="381.20" font-size="6.5" text-anchor="middle" dominant-baseline="central" fill="#222" style="" >-1</text>
<line x1="537.80" y1="376.20" x2="537.80" y2="378.20" stroke="#333" stroke-width="0.6" />
<text x="537.80" y="381.20" font-size="6.5" text-anchor="middle" dominant-baseline="central" fill="#222" style="" >0</text>
<line x1="600.50" y1="376.20" x2="600.50" y2="378.20" stroke="#333" stroke-width="0.6" />
<text x="600.50" y="381.20" font-size="6.5" text-anchor="middle" dominant-baseline="central" fill="#222" style="" >1</text>
<text x="517.00" y="385.50" font-size="7.5" text-anchor="middle" dominant-baseline="central" fill="#111" style="" >log2(FC)</text>
<text x="370.80" y="296.00" font-size="7" text-anchor="middle" dominant-baseline="central" fill="#111" style="" transform="rotate(-90 370.80 296.00)" >-log10(p-value)</text>
<text x="386.30" y="212.30" font-size="6" text-anchor="start" dominant-baseline="central" fill="#f820f8" style="" >Asparagine</text>
<text x="506.90" y="260.80" font-size="6" text-anchor="end" dominant-baseline="central" fill="#f820f8" style="" >Glutamate</text>
<line x1="507.20" y1="261.10" x2="510.80" y2="261.20" stroke="#000" stroke-width="0.6" />
<text x="480.30" y="279.40" font-size="6" text-anchor="start" dominant-baseline="central" fill="#f820f8" style="" >Glutamine</text>
<text x="485.80" y="286.40" font-size="6" text-anchor="end" dominant-baseline="central" fill="#f820f8" style="" >Lysine</text>
<line x1="486.00" y1="286.50" x2="489.50" y2="286.40" stroke="#000" stroke-width="0.6" />
<text x="573.70" y="212.60" font-size="6" text-anchor="start" dominant-baseline="central" fill="#3ab6f5" style="" >UDP</text>
<text x="593.70" y="212.00" font-size="6" text-anchor="start" dominant-baseline="central" fill="#f820f8" style="" >Serine</text>
<text x="615.60" y="213.20" font-size="6" text-anchor="start" dominant-baseline="central" fill="#f820f8" style="" >Glycine</text>
<text x="563.70" y="237.40" font-size="6" text-anchor="start" dominant-baseline="central" fill="#3ab6f5" style="" >ADP</text>
<text x="580.50" y="237.40" font-size="6" text-anchor="start" dominant-baseline="central" fill="#3ab6f5" style="" >CDP</text>
<text x="574.00" y="249.40" font-size="6" text-anchor="start" dominant-baseline="central" fill="#3ab6f5" style="" >GDP</text>
<text x="565.90" y="258.00" font-size="6" text-anchor="start" dominant-baseline="central" fill="#f820f8" style="" >Tyrosine</text>
<text x="631.00" y="267.60" font-size="6" text-anchor="start" dominant-baseline="central" fill="#3ab6f5" style="" >GTP</text>
<text x="607.00" y="283.40" font-size="6" text-anchor="start" dominant-baseline="central" fill="#3ab6f5" style="" >CTP</text>
<text x="553.50" y="289.10" font-size="6" text-anchor="start" dominant-baseline="central" fill="#3ab6f5" style="" >UMP</text>
<text x="570.80" y="289.10" font-size="6" text-anchor="start" dominant-baseline="central" fill="#3ab6f5" style="" >UTP</text>
<text x="545.90" y="300.80" font-size="6" text-anchor="start" dominant-baseline="central" fill="#3ab6f5" style="" >ATP</text>
<line x1="557.00" y1="300.60" x2="565.50" y2="298.80" stroke="#000" stroke-width="0.6" />
<text x="462.20" y="198.20" font-size="11.5" text-anchor="middle" dominant-baseline="central" fill="#7a7a7a" style="" >#506 BCL</text>
<line x1="436.63" y1="203.50" x2="487.77" y2="203.50" stroke="#7a7a7a" stroke-width="1.0" />
<text x="494.2" y="198.2" font-size="11.6" dominant-baseline="central" fill="#000"><tspan fill="#1234ff">ASNase</tspan>/Vehicle</text>
<text x="654.00" y="226.00" font-size="7.3" text-anchor="start" dominant-baseline="central" fill="#111" style="" >Log2(FC)</text>
<defs><linearGradient id="fcg" x1="0" y1="0" x2="0" y2="1"><stop offset="0" stop-color="#ee6a50"/><stop offset="0.160" stop-color="#e6755d"/><stop offset="0.267" stop-color="#d79b8c"/><stop offset="0.333" stop-color="#dcbeb6"/><stop offset="0.400" stop-color="#dedade"/><stop offset="0.467" stop-color="#c0b2da"/><stop offset="0.560" stop-color="#a686da"/><stop offset="0.720" stop-color="#805ede"/><stop offset="1.000" stop-color="#140ef9"/></linearGradient></defs>
<rect x="654.30" y="232.20" width="10.70" height="52.40" fill="url(#fcg)" stroke="none" stroke-width="0" />
<line x1="654.30" y1="239.20" x2="656.30" y2="239.20" stroke="#fff" stroke-width="0.5" />
<line x1="663.00" y1="239.20" x2="665.00" y2="239.20" stroke="#fff" stroke-width="0.5" />
<text x="668.00" y="239.20" font-size="6.3" text-anchor="start" dominant-baseline="central" fill="#111" style="" >1</text>
<line x1="654.30" y1="253.00" x2="656.30" y2="253.00" stroke="#fff" stroke-width="0.5" />
<line x1="663.00" y1="253.00" x2="665.00" y2="253.00" stroke="#fff" stroke-width="0.5" />
<text x="668.00" y="253.00" font-size="6.3" text-anchor="start" dominant-baseline="central" fill="#111" style="" >0</text>
<line x1="654.30" y1="266.80" x2="656.30" y2="266.80" stroke="#fff" stroke-width="0.5" />
<line x1="663.00" y1="266.80" x2="665.00" y2="266.80" stroke="#fff" stroke-width="0.5" />
<text x="668.00" y="266.80" font-size="6.3" text-anchor="start" dominant-baseline="central" fill="#111" style="" >-1</text>
<line x1="654.30" y1="280.60" x2="656.30" y2="280.60" stroke="#fff" stroke-width="0.5" />
<line x1="663.00" y1="280.60" x2="665.00" y2="280.60" stroke="#fff" stroke-width="0.5" />
<text x="668.00" y="280.60" font-size="6.3" text-anchor="start" dominant-baseline="central" fill="#111" style="" >-2</text>
<text x="649.80" y="299.80" font-size="5" text-anchor="start" dominant-baseline="central" fill="#111" style="" >P-value</text>
<circle cx="653.60" cy="307.80" r="0.6" fill="#222" stroke="#222" stroke-width="0.45" />
<text x="659.40" y="307.80" font-size="4.6" text-anchor="start" dominant-baseline="central" fill="#111" style="" >1.0</text>
<circle cx="653.60" cy="315.10" r="1.5" fill="#fff" stroke="#222" stroke-width="0.45" />
<text x="659.40" y="315.10" font-size="4.6" text-anchor="start" dominant-baseline="central" fill="#111" style="" >0.1</text>
<circle cx="653.60" cy="322.60" r="1.75" fill="#fff" stroke="#222" stroke-width="0.45" />
<text x="659.40" y="322.60" font-size="4.6" text-anchor="start" dominant-baseline="central" fill="#111" style="" >0.05</text>
<circle cx="653.60" cy="330.00" r="2.0" fill="#fff" stroke="#222" stroke-width="0.45" />
<text x="659.40" y="330.00" font-size="4.6" text-anchor="start" dominant-baseline="central" fill="#111" style="" >0.01</text>
<circle cx="653.60" cy="337.30" r="2.3" fill="#fff" stroke="#222" stroke-width="0.45" />
<text x="659.40" y="337.30" font-size="4.6" text-anchor="start" dominant-baseline="central" fill="#111" style="" >0.001</text>
<text x="3.50" y="411.50" font-size="17" font-weight="bold" fill="#000">f.</text>
<text x="72.90" y="415.30" font-size="11.5" text-anchor="middle" dominant-baseline="central" fill="#7a7a7a" style="" >#506 BCL</text>
<line x1="47.33" y1="420.60" x2="98.47" y2="420.60" stroke="#7a7a7a" stroke-width="1.0" />
<text x="154.30" y="415.30" font-size="11.5" text-anchor="middle" dominant-baseline="central" fill="#7a7a7a" style="" >#688 BCL</text>
<line x1="128.73" y1="420.60" x2="179.87" y2="420.60" stroke="#7a7a7a" stroke-width="1.0" />
<defs><clipPath id="redc"><ellipse cx="73.4" cy="471.9" rx="50.1" ry="45.4"/></clipPath></defs>
<ellipse cx="73.4" cy="471.9" rx="50.1" ry="45.4" fill="#ff6a50"/>
<ellipse cx="153.3" cy="472.4" rx="49.9" ry="44.9" fill="#7f97fa"/>
<ellipse cx="153.3" cy="472.4" rx="49.9" ry="44.9" fill="#7c4ca6" clip-path="url(#redc)"/>
<text x="73.30" y="447.90" font-size="11.6" text-anchor="middle" dominant-baseline="central" fill="#2a3cf0" style="" >ASNase</text>
<text x="73.30" y="462.20" font-size="11.6" text-anchor="middle" dominant-baseline="central" fill="#000" style="" >/Vehicle</text>
<text x="73.30" y="486.30" font-size="11.6" text-anchor="middle" dominant-baseline="central" fill="#000" style="font-weight:bold;font-style:italic;" >52/136</text>
<text x="153.30" y="448.60" font-size="11.6" text-anchor="middle" dominant-baseline="central" fill="#1a3cff" style="" >ASNase</text>
<text x="153.60" y="462.80" font-size="11.6" text-anchor="middle" dominant-baseline="central" fill="#000" style="" >/Vehicle</text>
<text x="153.60" y="486.30" font-size="11.6" text-anchor="middle" dominant-baseline="central" fill="#000" style="font-weight:bold;font-style:italic;" >58/131</text>
<path d="M112.4,487.5 L112.4,522.9 L247.3,522.9 L247.3,501" stroke="#7030a0" stroke-width="1.8" fill="none" />
<path d="M247.3,493.9 L243.6,502.0 L251.0,502.0 Z" stroke="#000" stroke-width="0" fill="#7030a0" />
<text x="247.6" y="465.5" font-size="11.6" font-weight="bold" text-anchor="middle" dominant-baseline="central" fill="#7030a0"><tspan font-style="italic">14</tspan> up</text>
<text x="247.3" y="479.8" font-size="11.6" font-weight="bold" text-anchor="middle" dominant-baseline="central" fill="#7030a0"><tspan font-style="italic">5</tspan> down</text>
<text x="288.30" y="411.40" font-size="17" font-weight="bold" fill="#000">g.</text>
<line x1="474.15" y1="414.70" x2="474.15" y2="504.10" stroke="#f0f0f0" stroke-width="0.35" />
<line x1="495.30" y1="414.70" x2="495.30" y2="504.10" stroke="#e4e4e4" stroke-width="0.5" />
<line x1="516.45" y1="414.70" x2="516.45" y2="504.10" stroke="#f0f0f0" stroke-width="0.35" />
<line x1="537.60" y1="414.70" x2="537.60" y2="504.10" stroke="#e4e4e4" stroke-width="0.5" />
<line x1="558.75" y1="414.70" x2="558.75" y2="504.10" stroke="#f0f0f0" stroke-width="0.35" />
<line x1="579.90" y1="414.70" x2="579.90" y2="504.10" stroke="#e4e4e4" stroke-width="0.5" />
<line x1="601.05" y1="414.70" x2="601.05" y2="504.10" stroke="#f0f0f0" stroke-width="0.35" />
<line x1="622.20" y1="414.70" x2="622.20" y2="504.10" stroke="#e4e4e4" stroke-width="0.5" />
<line x1="460.60" y1="421.90" x2="640.40" y2="421.90" stroke="#e4e4e4" stroke-width="0.5" />
<line x1="460.60" y1="434.50" x2="640.40" y2="434.50" stroke="#e4e4e4" stroke-width="0.5" />
<line x1="460.60" y1="447.00" x2="640.40" y2="447.00" stroke="#e4e4e4" stroke-width="0.5" />
<line x1="460.60" y1="459.60" x2="640.40" y2="459.60" stroke="#e4e4e4" stroke-width="0.5" />
<line x1="460.60" y1="472.10" x2="640.40" y2="472.10" stroke="#e4e4e4" stroke-width="0.5" />
<line x1="460.60" y1="484.70" x2="640.40" y2="484.70" stroke="#e4e4e4" stroke-width="0.5" />
<line x1="460.60" y1="497.20" x2="640.40" y2="497.20" stroke="#e4e4e4" stroke-width="0.5" />
<rect x="460.60" y="414.70" width="179.80" height="89.40" fill="none" stroke="#555" stroke-width="0.7" />
<line x1="458.60" y1="421.90" x2="460.60" y2="421.90" stroke="#333" stroke-width="0.6" />
<text x="456.90" y="421.90" font-size="7.22" text-anchor="end" dominant-baseline="central" fill="#333" style="" >Purine metabolism</text>
<line x1="458.60" y1="434.50" x2="460.60" y2="434.50" stroke="#333" stroke-width="0.6" />
<text x="456.90" y="434.50" font-size="7.22" text-anchor="end" dominant-baseline="central" fill="#333" style="" >Pyrimidine metabolism</text>
<line x1="458.60" y1="447.00" x2="460.60" y2="447.00" stroke="#333" stroke-width="0.6" />
<text x="456.90" y="447.00" font-size="7.22" text-anchor="end" dominant-baseline="central" fill="#333" style="" >Glyoxylate and dicarboxylate metabolism</text>
<line x1="458.60" y1="459.60" x2="460.60" y2="459.60" stroke="#333" stroke-width="0.6" />
<text x="456.90" y="459.60" font-size="7.22" text-anchor="end" dominant-baseline="central" fill="#333" style="" >Glycine, serine and threonine metabolism</text>
<line x1="458.60" y1="472.10" x2="460.60" y2="472.10" stroke="#333" stroke-width="0.6" />
<text x="456.90" y="472.10" font-size="7.22" text-anchor="end" dominant-baseline="central" fill="#333" style="" >Alanine, aspartate and glutamate metabolism</text>
<line x1="458.60" y1="484.70" x2="460.60" y2="484.70" stroke="#333" stroke-width="0.6" />
<text x="456.90" y="484.70" font-size="7.22" text-anchor="end" dominant-baseline="central" fill="#333" style="" >Phenylalanine, tyrosine and tryptophan biosynthesis</text>
<line x1="458.60" y1="497.20" x2="460.60" y2="497.20" stroke="#333" stroke-width="0.6" />
<text x="456.90" y="497.20" font-size="7.22" text-anchor="end" dominant-baseline="central" fill="#333" style="" >Cysteine and methionine metabolism</text>
<rect x="320.40" y="454.40" width="138.40" height="10.40" fill="none" stroke="#7a40b0" stroke-width="0.9" />
<line x1="495.30" y1="504.10" x2="495.30" y2="506.10" stroke="#333" stroke-width="0.6" />
<text x="495.30" y="510.20" font-size="7.3" text-anchor="middle" dominant-baseline="central" fill="#444" style="" >1</text>
<line x1="537.60" y1="504.10" x2="537.60" y2="506.10" stroke="#333" stroke-width="0.6" />
<text x="537.60" y="510.20" font-size="7.3" text-anchor="middle" dominant-baseline="central" fill="#444" style="" >2</text>
<line x1="579.90" y1="504.10" x2="579.90" y2="506.10" stroke="#333" stroke-width="0.6" />
<text x="579.90" y="510.20" font-size="7.3" text-anchor="middle" dominant-baseline="central" fill="#444" style="" >3</text>
<line x1="622.20" y1="504.10" x2="622.20" y2="506.10" stroke="#333" stroke-width="0.6" />
<text x="622.20" y="510.20" font-size="7.3" text-anchor="middle" dominant-baseline="central" fill="#444" style="" >4</text>
<text x="559.10" y="521.00" font-size="7.8" text-anchor="middle" dominant-baseline="central" fill="#222" style="" >-log10 (p-value)</text>
<circle cx="632.30" cy="422.30" r="2.8" fill="#ff2a10" stroke="none" stroke-width="0" />
<circle cx="588.00" cy="434.90" r="3.0" fill="#ff2a10" stroke="none" stroke-width="0" />
<circle cx="553.40" cy="447.20" r="2.8" fill="#ff2a12" stroke="none" stroke-width="0" />
<circle cx="550.40" cy="460.00" r="2.8" fill="#ff2a12" stroke="none" stroke-width="0" />
<circle cx="513.10" cy="472.20" r="2.5" fill="#ff4a28" stroke="none" stroke-width="0" />
<circle cx="510.40" cy="484.90" r="4.3" fill="#ff4a2a" stroke="none" stroke-width="0" />
<circle cx="507.70" cy="497.30" r="2.4" fill="#ff3a1c" stroke="none" stroke-width="0" />
<text x="661.50" y="414.20" font-size="6.2" text-anchor="middle" dominant-baseline="central" fill="#111" style="" >Enrichment</text>
<text x="661.50" y="420.20" font-size="6.2" text-anchor="middle" dominant-baseline="central" fill="#111" style="" >Ratio</text>
<circle cx="658.20" cy="430.60" r="1.5" fill="#000" stroke="none" stroke-width="0" />
<text x="664.60" y="430.60" font-size="6" text-anchor="start" dominant-baseline="central" fill="#111" style="" >5</text>
<circle cx="658.20" cy="439.00" r="2.2" fill="#000" stroke="none" stroke-width="0" />
<text x="664.60" y="439.00" font-size="6" text-anchor="start" dominant-baseline="central" fill="#111" style="" >10</text>
<circle cx="658.20" cy="447.70" r="2.9" fill="#000" stroke="none" stroke-width="0" />
<text x="664.60" y="447.70" font-size="6" text-anchor="start" dominant-baseline="central" fill="#111" style="" >15</text>
<circle cx="658.20" cy="457.80" r="3.6" fill="#000" stroke="none" stroke-width="0" />
<text x="664.60" y="457.80" font-size="6" text-anchor="start" dominant-baseline="central" fill="#111" style="" >20</text>
<text x="650.60" y="473.20" font-size="6.5" text-anchor="start" dominant-baseline="central" fill="#111" style="" >P-value</text>
<defs><linearGradient id="pvg" x1="0" y1="0" x2="0" y2="1"><stop offset="0" stop-color="#fff8ec"/><stop offset="0.5" stop-color="#ff9c80"/><stop offset="1" stop-color="#ff1200"/></linearGradient></defs>
<rect x="650.40" y="478.90" width="6.80" height="42.70" fill="url(#pvg)" stroke="none" stroke-width="0" />
<text x="660.80" y="480.60" font-size="6" text-anchor="start" dominant-baseline="central" fill="#111" style="" >0.4</text>
<text x="660.80" y="490.68" font-size="6" text-anchor="start" dominant-baseline="central" fill="#111" style="" >0.3</text>
<text x="660.80" y="500.76" font-size="6" text-anchor="start" dominant-baseline="central" fill="#111" style="" >0.2</text>
<text x="660.80" y="510.84" font-size="6" text-anchor="start" dominant-baseline="central" fill="#111" style="" >0.1</text>
<text x="660.80" y="520.92" font-size="6" text-anchor="start" dominant-baseline="central" fill="#111" style="" >0.0</text>
<text x="10.00" y="560.50" font-size="17" font-weight="bold" fill="#000">h.</text>
<line x1="86.10" y1="590.80" x2="86.10" y2="702.40" stroke="#000" stroke-width="1.6" />
<line x1="82.70" y1="701.60" x2="86.10" y2="701.60" stroke="#000" stroke-width="1.4" />
<text x="81.20" y="701.60" font-size="11.3" font-weight="bold" text-anchor="end" dominant-baseline="central">0</text>
<line x1="84.10" y1="687.84" x2="86.10" y2="687.84" stroke="#000" stroke-width="1.4" />
<line x1="82.70" y1="674.08" x2="86.10" y2="674.08" stroke="#000" stroke-width="1.4" />
<text x="81.20" y="674.48" font-size="11.3" font-weight="bold" text-anchor="end" dominant-baseline="central">1×10<tspan font-size="7.7" dx="0.9" dy="-4.1">8</tspan></text>
<line x1="84.10" y1="660.32" x2="86.10" y2="660.32" stroke="#000" stroke-width="1.4" />
<line x1="82.70" y1="646.56" x2="86.10" y2="646.56" stroke="#000" stroke-width="1.4" />
<text x="81.20" y="646.96" font-size="11.3" font-weight="bold" text-anchor="end" dominant-baseline="central">2×10<tspan font-size="7.7" dx="0.9" dy="-4.1">8</tspan></text>
<line x1="84.10" y1="632.80" x2="86.10" y2="632.80" stroke="#000" stroke-width="1.4" />
<line x1="82.70" y1="619.04" x2="86.10" y2="619.04" stroke="#000" stroke-width="1.4" />
<text x="81.20" y="619.44" font-size="11.3" font-weight="bold" text-anchor="end" dominant-baseline="central">3×10<tspan font-size="7.7" dx="0.9" dy="-4.1">8</tspan></text>
<line x1="84.10" y1="605.28" x2="86.10" y2="605.28" stroke="#000" stroke-width="1.4" />
<line x1="82.70" y1="591.52" x2="86.10" y2="591.52" stroke="#000" stroke-width="1.4" />
<text x="81.20" y="591.92" font-size="11.3" font-weight="bold" text-anchor="end" dominant-baseline="central">4×10<tspan font-size="7.7" dx="0.9" dy="-4.1">8</tspan></text>
<line x1="85.30" y1="701.60" x2="156.60" y2="701.60" stroke="#000" stroke-width="1.6" />
<line x1="106.60" y1="701.60" x2="106.60" y2="705.40" stroke="#000" stroke-width="1.4" />
<line x1="136.60" y1="701.60" x2="136.60" y2="705.40" stroke="#000" stroke-width="1.4" />
<line x1="98.50" y1="664.20" x2="115.00" y2="664.20" stroke="#222" stroke-width="1.3" />
<line x1="126.70" y1="626.00" x2="147.00" y2="626.00" stroke="#222" stroke-width="1.3" />
<line x1="136.60" y1="618.30" x2="136.60" y2="633.60" stroke="#0a32ff" stroke-width="1.1" />
<line x1="131.20" y1="618.30" x2="141.60" y2="618.30" stroke="#0a32ff" stroke-width="1.1" />
<line x1="131.20" y1="633.60" x2="141.60" y2="633.60" stroke="#0a32ff" stroke-width="1.1" />
<circle cx="99.00" cy="661.90" r="2.7" fill="#000" stroke="none" stroke-width="0" />
<circle cx="104.90" cy="659.70" r="2.7" fill="#000" stroke="none" stroke-width="0" />
<circle cx="107.60" cy="659.00" r="2.7" fill="#000" stroke="none" stroke-width="0" />
<circle cx="113.80" cy="660.10" r="2.7" fill="#000" stroke="none" stroke-width="0" />
<circle cx="104.90" cy="665.60" r="2.7" fill="#000" stroke="none" stroke-width="0" />
<circle cx="110.30" cy="666.30" r="2.7" fill="#000" stroke="none" stroke-width="0" />
<circle cx="113.80" cy="665.60" r="2.7" fill="#000" stroke="none" stroke-width="0" />
<circle cx="99.00" cy="669.40" r="2.7" fill="#000" stroke="none" stroke-width="0" />
<circle cx="110.70" cy="669.60" r="2.7" fill="#000" stroke="none" stroke-width="0" />
<circle cx="101.60" cy="664.10" r="2.7" fill="#000" stroke="none" stroke-width="0" />
<path d="M133.40,611.28 L139.80,611.28 L136.60,605.33 Z" fill="#0a32ff"/>
<path d="M134.70,621.68 L141.10,621.68 L137.90,615.73 Z" fill="#0a32ff"/>
<path d="M126.40,628.98 L132.80,628.98 L129.60,623.03 Z" fill="#0a32ff"/>
<path d="M129.90,628.58 L136.30,628.58 L133.10,622.63 Z" fill="#0a32ff"/>
<path d="M132.20,626.68 L138.60,626.68 L135.40,620.73 Z" fill="#0a32ff"/>
<path d="M140.30,632.48 L146.70,632.48 L143.50,626.53 Z" fill="#0a32ff"/>
<path d="M126.40,635.58 L132.80,635.58 L129.60,629.63 Z" fill="#0a32ff"/>
<path d="M131.80,633.58 L138.20,633.58 L135.00,627.63 Z" fill="#0a32ff"/>
<path d="M137.20,635.88 L143.60,635.88 L140.40,629.93 Z" fill="#0a32ff"/>
<path d="M134.50,630.88 L140.90,630.88 L137.70,624.93 Z" fill="#0a32ff"/>
<path d="M107.30,614.90 L107.30,591.50 L136.90,591.50 L136.90,599.00" stroke="#000" stroke-width="1.5" fill="none" />
<polygon points="116.08,581.26 116.55,582.36 117.74,582.47 116.84,583.26 117.10,584.43 116.08,583.81 115.05,584.43 115.31,583.26 114.41,582.47 115.60,582.36" fill="#000"/>
<polygon points="120.23,581.26 120.70,582.36 121.89,582.47 120.99,583.26 121.25,584.43 120.23,583.81 119.20,584.43 119.46,583.26 118.56,582.47 119.75,582.36" fill="#000"/>
<polygon points="124.38,581.26 124.85,582.36 126.04,582.47 125.14,583.26 125.40,584.43 124.38,583.81 123.35,584.43 123.61,583.26 122.71,582.47 123.90,582.36" fill="#000"/>
<polygon points="128.53,581.26 129.00,582.36 130.19,582.47 129.29,583.26 129.55,584.43 128.53,583.81 127.50,584.43 127.76,583.26 126.86,582.47 128.05,582.36" fill="#000"/>
<text x="121.90" y="557.60" font-size="11.6" text-anchor="middle" dominant-baseline="central" fill="#7a7a7a" style="" >#506</text>
<line x1="109.00" y1="562.90" x2="134.80" y2="562.90" stroke="#7a7a7a" stroke-width="1.0" />
<text x="132.40" y="713.00" font-size="11.8" text-anchor="start" dominant-baseline="central" fill="#1234ff" style="font-weight:bold;" >ASNase</text>
<path d="M106.20,708.8 L106.20,731.0 L113.80,731.0" stroke="#000" stroke-width="1.3" fill="none" />
<text x="114.90" y="729.60" font-size="11.6" text-anchor="start" dominant-baseline="central" fill="#000" style="font-weight:bold;" >Vehicle</text>
<text x="25.70" y="647.00" font-size="11" text-anchor="middle" dominant-baseline="central" fill="#000" style="font-weight:bold;" transform="rotate(-90 25.70 647.00)" >Total serine</text>
<text x="36.80" y="647.00" font-size="11" text-anchor="middle" dominant-baseline="central" fill="#000" style="font-weight:bold;" transform="rotate(-90 36.80 647.00)" >(peak area)</text>
<line x1="215.10" y1="588.10" x2="215.10" y2="702.90" stroke="#000" stroke-width="1.6" />
<line x1="211.70" y1="702.10" x2="215.10" y2="702.10" stroke="#000" stroke-width="1.4" />
<text x="210.00" y="702.10" font-size="11.3" font-weight="bold" text-anchor="end" dominant-baseline="central">0</text>
<line x1="213.10" y1="687.94" x2="215.10" y2="687.94" stroke="#000" stroke-width="1.4" />
<line x1="211.70" y1="673.78" x2="215.10" y2="673.78" stroke="#000" stroke-width="1.4" />
<text x="210.00" y="674.18" font-size="11.3" font-weight="bold" text-anchor="end" dominant-baseline="central">2×10<tspan font-size="7.7" dx="0.9" dy="-4.1">7</tspan></text>
<line x1="213.10" y1="659.62" x2="215.10" y2="659.62" stroke="#000" stroke-width="1.4" />
<line x1="211.70" y1="645.46" x2="215.10" y2="645.46" stroke="#000" stroke-width="1.4" />
<text x="210.00" y="645.86" font-size="11.3" font-weight="bold" text-anchor="end" dominant-baseline="central">4×10<tspan font-size="7.7" dx="0.9" dy="-4.1">7</tspan></text>
<line x1="213.10" y1="631.30" x2="215.10" y2="631.30" stroke="#000" stroke-width="1.4" />
<line x1="211.70" y1="617.14" x2="215.10" y2="617.14" stroke="#000" stroke-width="1.4" />
<text x="210.00" y="617.54" font-size="11.3" font-weight="bold" text-anchor="end" dominant-baseline="central">6×10<tspan font-size="7.7" dx="0.9" dy="-4.1">7</tspan></text>
<line x1="213.10" y1="602.98" x2="215.10" y2="602.98" stroke="#000" stroke-width="1.4" />
<line x1="211.70" y1="588.82" x2="215.10" y2="588.82" stroke="#000" stroke-width="1.4" />
<text x="210.00" y="589.22" font-size="11.3" font-weight="bold" text-anchor="end" dominant-baseline="central">8×10<tspan font-size="7.7" dx="0.9" dy="-4.1">7</tspan></text>
<line x1="214.30" y1="702.10" x2="287.80" y2="702.10" stroke="#000" stroke-width="1.6" />
<line x1="235.70" y1="702.10" x2="235.70" y2="705.90" stroke="#000" stroke-width="1.4" />
<line x1="266.90" y1="702.10" x2="266.90" y2="705.90" stroke="#000" stroke-width="1.4" />
<line x1="226.20" y1="673.40" x2="245.20" y2="673.40" stroke="#222" stroke-width="1.3" />
<line x1="235.70" y1="666.40" x2="235.70" y2="680.40" stroke="#222" stroke-width="1.1" />
<line x1="229.50" y1="666.40" x2="241.50" y2="666.40" stroke="#222" stroke-width="1.1" />
<line x1="229.50" y1="680.40" x2="241.50" y2="680.40" stroke="#222" stroke-width="1.1" />
<line x1="256.70" y1="641.60" x2="277.70" y2="641.60" stroke="#222" stroke-width="1.3" />
<line x1="266.90" y1="627.40" x2="266.90" y2="655.10" stroke="#0a32ff" stroke-width="1.1" />
<line x1="261.40" y1="627.40" x2="272.90" y2="627.40" stroke="#0a32ff" stroke-width="1.1" />
<line x1="261.40" y1="655.10" x2="272.90" y2="655.10" stroke="#0a32ff" stroke-width="1.1" />
<circle cx="233.70" cy="661.20" r="2.7" fill="#000" stroke="none" stroke-width="0" />
<circle cx="237.70" cy="662.60" r="2.7" fill="#000" stroke="none" stroke-width="0" />
<circle cx="229.00" cy="672.00" r="2.7" fill="#000" stroke="none" stroke-width="0" />
<circle cx="234.40" cy="669.30" r="2.7" fill="#000" stroke="none" stroke-width="0" />
<circle cx="236.40" cy="668.00" r="2.7" fill="#000" stroke="none" stroke-width="0" />
<circle cx="239.80" cy="670.00" r="2.7" fill="#000" stroke="none" stroke-width="0" />
<circle cx="243.60" cy="672.70" r="2.7" fill="#000" stroke="none" stroke-width="0" />
<circle cx="228.30" cy="680.80" r="2.7" fill="#000" stroke="none" stroke-width="0" />
<circle cx="235.70" cy="680.20" r="2.7" fill="#000" stroke="none" stroke-width="0" />
<circle cx="243.20" cy="682.20" r="2.7" fill="#000" stroke="none" stroke-width="0" />
<circle cx="232.30" cy="675.40" r="2.7" fill="#000" stroke="none" stroke-width="0" />
<circle cx="239.10" cy="676.10" r="2.7" fill="#000" stroke="none" stroke-width="0" />
<path d="M263.50,615.35 L270.30,615.35 L266.90,609.02 Z" fill="#0a32ff"/>
<path d="M263.50,630.95 L270.30,630.95 L266.90,624.62 Z" fill="#0a32ff"/>
<path d="M258.70,638.35 L265.50,638.35 L262.10,632.02 Z" fill="#0a32ff"/>
<path d="M263.50,637.65 L270.30,637.65 L266.90,631.32 Z" fill="#0a32ff"/>
<path d="M268.20,641.05 L275.00,641.05 L271.60,634.72 Z" fill="#0a32ff"/>
<path d="M256.70,649.15 L263.50,649.15 L260.10,642.82 Z" fill="#0a32ff"/>
<path d="M260.70,647.85 L267.50,647.85 L264.10,641.52 Z" fill="#0a32ff"/>
<path d="M266.20,649.15 L273.00,649.15 L269.60,642.82 Z" fill="#0a32ff"/>
<path d="M270.90,646.45 L277.70,646.45 L274.30,640.12 Z" fill="#0a32ff"/>
<path d="M262.10,653.25 L268.90,653.25 L265.50,646.92 Z" fill="#0a32ff"/>
<path d="M266.20,651.85 L273.00,651.85 L269.60,645.52 Z" fill="#0a32ff"/>
<path d="M263.50,672.85 L270.30,672.85 L266.90,666.52 Z" fill="#0a32ff"/>
<path d="M238.20,614.50 L238.20,588.40 L267.10,588.40 L267.10,596.90" stroke="#000" stroke-width="1.5" fill="none" />
<polygon points="246.10,576.10 246.65,577.38 248.05,577.51 247.00,578.44 247.30,579.80 246.10,579.09 244.90,579.80 245.20,578.44 244.15,577.51 245.55,577.38" fill="#000"/>
<polygon points="250.70,576.10 251.25,577.38 252.65,577.51 251.60,578.44 251.90,579.80 250.70,579.09 249.50,579.80 249.80,578.44 248.75,577.51 250.15,577.38" fill="#000"/>
<polygon points="255.30,576.10 255.85,577.38 257.25,577.51 256.20,578.44 256.50,579.80 255.30,579.09 254.10,579.80 254.40,578.44 253.35,577.51 254.75,577.38" fill="#000"/>
<polygon points="259.90,576.10 260.45,577.38 261.85,577.51 260.80,578.44 261.10,579.80 259.90,579.09 258.70,579.80 259.00,578.44 257.95,577.51 259.35,577.38" fill="#000"/>
<text x="253.20" y="557.60" font-size="11.6" text-anchor="middle" dominant-baseline="central" fill="#7a7a7a" style="" >#688</text>
<line x1="240.30" y1="562.90" x2="266.10" y2="562.90" stroke="#7a7a7a" stroke-width="1.0" />
<text x="262.70" y="713.00" font-size="11.8" text-anchor="start" dominant-baseline="central" fill="#1234ff" style="font-weight:bold;" >ASNase</text>
<path d="M235.30,708.8 L235.30,731.0 L242.90,731.0" stroke="#000" stroke-width="1.3" fill="none" />
<text x="244.00" y="729.60" font-size="11.6" text-anchor="start" dominant-baseline="central" fill="#000" style="font-weight:bold;" >Vehicle</text>
<text x="341.50" y="560.50" font-size="17" font-weight="bold" fill="#000">i.</text>
<line x1="419.30" y1="590.80" x2="419.30" y2="702.40" stroke="#000" stroke-width="1.6" />
<line x1="415.90" y1="701.60" x2="419.30" y2="701.60" stroke="#000" stroke-width="1.4" />
<text x="414.40" y="701.60" font-size="11.3" font-weight="bold" text-anchor="end" dominant-baseline="central">0</text>
<line x1="417.30" y1="687.84" x2="419.30" y2="687.84" stroke="#000" stroke-width="1.4" />
<line x1="415.90" y1="674.08" x2="419.30" y2="674.08" stroke="#000" stroke-width="1.4" />
<text x="414.40" y="674.48" font-size="11.3" font-weight="bold" text-anchor="end" dominant-baseline="central">1×10<tspan font-size="7.7" dx="0.9" dy="-4.1">8</tspan></text>
<line x1="417.30" y1="660.32" x2="419.30" y2="660.32" stroke="#000" stroke-width="1.4" />
<line x1="415.90" y1="646.56" x2="419.30" y2="646.56" stroke="#000" stroke-width="1.4" />
<text x="414.40" y="646.96" font-size="11.3" font-weight="bold" text-anchor="end" dominant-baseline="central">2×10<tspan font-size="7.7" dx="0.9" dy="-4.1">8</tspan></text>
<line x1="417.30" y1="632.80" x2="419.30" y2="632.80" stroke="#000" stroke-width="1.4" />
<line x1="415.90" y1="619.04" x2="419.30" y2="619.04" stroke="#000" stroke-width="1.4" />
<text x="414.40" y="619.44" font-size="11.3" font-weight="bold" text-anchor="end" dominant-baseline="central">3×10<tspan font-size="7.7" dx="0.9" dy="-4.1">8</tspan></text>
<line x1="417.30" y1="605.28" x2="419.30" y2="605.28" stroke="#000" stroke-width="1.4" />
<line x1="415.90" y1="591.52" x2="419.30" y2="591.52" stroke="#000" stroke-width="1.4" />
<text x="414.40" y="591.92" font-size="11.3" font-weight="bold" text-anchor="end" dominant-baseline="central">4×10<tspan font-size="7.7" dx="0.9" dy="-4.1">8</tspan></text>
<line x1="418.50" y1="701.60" x2="491.20" y2="701.60" stroke="#000" stroke-width="1.6" />
<line x1="440.10" y1="701.60" x2="440.10" y2="705.40" stroke="#000" stroke-width="1.4" />
<line x1="470.90" y1="701.60" x2="470.90" y2="705.40" stroke="#000" stroke-width="1.4" />
<line x1="430.00" y1="678.50" x2="449.50" y2="678.50" stroke="#222" stroke-width="1.3" />
<line x1="461.00" y1="645.90" x2="480.70" y2="645.90" stroke="#222" stroke-width="1.3" />
<line x1="470.90" y1="636.90" x2="470.90" y2="655.80" stroke="#0a32ff" stroke-width="1.1" />
<line x1="466.00" y1="636.90" x2="476.00" y2="636.90" stroke="#0a32ff" stroke-width="1.1" />
<line x1="466.00" y1="655.80" x2="476.00" y2="655.80" stroke="#0a32ff" stroke-width="1.1" />
<circle cx="432.60" cy="673.40" r="2.7" fill="#000" stroke="none" stroke-width="0" />
<circle cx="440.10" cy="673.40" r="2.7" fill="#000" stroke="none" stroke-width="0" />
<circle cx="434.70" cy="677.50" r="2.7" fill="#000" stroke="none" stroke-width="0" />
<circle cx="441.40" cy="677.50" r="2.7" fill="#000" stroke="none" stroke-width="0" />
<circle cx="447.50" cy="677.50" r="2.7" fill="#000" stroke="none" stroke-width="0" />
<circle cx="434.70" cy="684.20" r="2.7" fill="#000" stroke="none" stroke-width="0" />
<circle cx="444.80" cy="684.20" r="2.7" fill="#000" stroke="none" stroke-width="0" />
<circle cx="439.40" cy="680.80" r="2.7" fill="#000" stroke="none" stroke-width="0" />
<circle cx="443.50" cy="680.20" r="2.7" fill="#000" stroke="none" stroke-width="0" />
<path d="M460.50,636.86 L467.10,636.86 L463.80,630.72 Z" fill="#0a32ff"/>
<path d="M474.70,638.26 L481.30,638.26 L478.00,632.12 Z" fill="#0a32ff"/>
<path d="M465.20,640.26 L471.80,640.26 L468.50,634.12 Z" fill="#0a32ff"/>
<path d="M469.90,642.36 L476.50,642.36 L473.20,636.22 Z" fill="#0a32ff"/>
<path d="M465.20,647.06 L471.80,647.06 L468.50,640.92 Z" fill="#0a32ff"/>
<path d="M460.50,651.76 L467.10,651.76 L463.80,645.62 Z" fill="#0a32ff"/>
<path d="M465.20,656.56 L471.80,656.56 L468.50,650.42 Z" fill="#0a32ff"/>
<path d="M470.60,657.86 L477.20,657.86 L473.90,651.72 Z" fill="#0a32ff"/>
<path d="M474.70,658.56 L481.30,658.56 L478.00,652.42 Z" fill="#0a32ff"/>
<path d="M460.50,661.96 L467.10,661.96 L463.80,655.82 Z" fill="#0a32ff"/>
<path d="M441.00,613.20 L441.00,588.80 L471.20,588.80 L471.20,596.90" stroke="#000" stroke-width="1.5" fill="none" />
<polygon points="449.93,578.28 450.45,579.51 451.78,579.63 450.78,580.51 451.07,581.81 449.93,581.13 448.78,581.81 449.07,580.51 448.07,579.63 449.40,579.51" fill="#000"/>
<polygon points="454.18,578.28 454.70,579.51 456.03,579.63 455.03,580.51 455.32,581.81 454.18,581.13 453.03,581.81 453.32,580.51 452.32,579.63 453.65,579.51" fill="#000"/>
<polygon points="458.43,578.28 458.95,579.51 460.28,579.63 459.28,580.51 459.57,581.81 458.43,581.13 457.28,581.81 457.57,580.51 456.57,579.63 457.90,579.51" fill="#000"/>
<polygon points="462.68,578.28 463.20,579.51 464.53,579.63 463.53,580.51 463.82,581.81 462.68,581.13 461.53,581.81 461.82,580.51 460.82,579.63 462.15,579.51" fill="#000"/>
<text x="454.80" y="557.60" font-size="11.6" text-anchor="middle" dominant-baseline="central" fill="#7a7a7a" style="" >#506</text>
<line x1="441.90" y1="562.90" x2="467.70" y2="562.90" stroke="#7a7a7a" stroke-width="1.0" />
<text x="466.70" y="713.00" font-size="11.8" text-anchor="start" dominant-baseline="central" fill="#1234ff" style="font-weight:bold;" >ASNase</text>
<path d="M439.70,708.8 L439.70,731.0 L447.30,731.0" stroke="#000" stroke-width="1.3" fill="none" />
<text x="448.40" y="729.60" font-size="11.6" text-anchor="start" dominant-baseline="central" fill="#000" style="font-weight:bold;" >Vehicle</text>
<text x="358.40" y="644.30" font-size="11" text-anchor="middle" dominant-baseline="central" fill="#000" style="font-weight:bold;" transform="rotate(-90 358.40 644.30)" >Total glycine</text>
<text x="370.20" y="644.30" font-size="11" text-anchor="middle" dominant-baseline="central" fill="#000" style="font-weight:bold;" transform="rotate(-90 370.20 644.30)" >(peak area)</text>
<line x1="552.60" y1="590.10" x2="552.60" y2="702.60" stroke="#000" stroke-width="1.6" />
<line x1="549.20" y1="701.80" x2="552.60" y2="701.80" stroke="#000" stroke-width="1.4" />
<text x="547.80" y="701.80" font-size="11.3" font-weight="bold" text-anchor="end" dominant-baseline="central">0</text>
<line x1="550.60" y1="690.70" x2="552.60" y2="690.70" stroke="#000" stroke-width="1.4" />
<line x1="549.20" y1="679.60" x2="552.60" y2="679.60" stroke="#000" stroke-width="1.4" />
<text x="547.80" y="680.00" font-size="11.3" font-weight="bold" text-anchor="end" dominant-baseline="central">2×10<tspan font-size="7.7" dx="0.9" dy="-4.1">7</tspan></text>
<line x1="550.60" y1="668.50" x2="552.60" y2="668.50" stroke="#000" stroke-width="1.4" />
<line x1="549.20" y1="657.40" x2="552.60" y2="657.40" stroke="#000" stroke-width="1.4" />
<text x="547.80" y="657.80" font-size="11.3" font-weight="bold" text-anchor="end" dominant-baseline="central">4×10<tspan font-size="7.7" dx="0.9" dy="-4.1">7</tspan></text>
<line x1="550.60" y1="646.30" x2="552.60" y2="646.30" stroke="#000" stroke-width="1.4" />
<line x1="549.20" y1="635.20" x2="552.60" y2="635.20" stroke="#000" stroke-width="1.4" />
<text x="547.80" y="635.60" font-size="11.3" font-weight="bold" text-anchor="end" dominant-baseline="central">6×10<tspan font-size="7.7" dx="0.9" dy="-4.1">7</tspan></text>
<line x1="550.60" y1="624.10" x2="552.60" y2="624.10" stroke="#000" stroke-width="1.4" />
<line x1="549.20" y1="613.00" x2="552.60" y2="613.00" stroke="#000" stroke-width="1.4" />
<text x="547.80" y="613.40" font-size="11.3" font-weight="bold" text-anchor="end" dominant-baseline="central">8×10<tspan font-size="7.7" dx="0.9" dy="-4.1">7</tspan></text>
<line x1="550.60" y1="601.90" x2="552.60" y2="601.90" stroke="#000" stroke-width="1.4" />
<line x1="549.20" y1="590.80" x2="552.60" y2="590.80" stroke="#000" stroke-width="1.4" />
<text x="547.80" y="591.20" font-size="11.3" font-weight="bold" text-anchor="end" dominant-baseline="central">1×10<tspan font-size="7.7" dx="0.9" dy="-4.1">8</tspan></text>
<line x1="551.80" y1="701.80" x2="623.10" y2="701.80" stroke="#000" stroke-width="1.6" />
<line x1="572.40" y1="701.80" x2="572.40" y2="705.60" stroke="#000" stroke-width="1.4" />
<line x1="602.80" y1="701.80" x2="602.80" y2="705.60" stroke="#000" stroke-width="1.4" />
<line x1="568.30" y1="672.70" x2="582.90" y2="672.70" stroke="#222" stroke-width="1.3" />
<line x1="572.40" y1="658.20" x2="572.40" y2="687.60" stroke="#222" stroke-width="1.1" />
<line x1="567.00" y1="658.20" x2="577.80" y2="658.20" stroke="#222" stroke-width="1.1" />
<line x1="567.00" y1="687.60" x2="577.80" y2="687.60" stroke="#222" stroke-width="1.1" />
<line x1="593.30" y1="632.80" x2="613.00" y2="632.80" stroke="#222" stroke-width="1.3" />
<line x1="602.80" y1="622.00" x2="602.80" y2="646.30" stroke="#0a32ff" stroke-width="1.1" />
<line x1="598.00" y1="622.00" x2="608.00" y2="622.00" stroke="#0a32ff" stroke-width="1.1" />
<line x1="598.00" y1="646.30" x2="608.00" y2="646.30" stroke="#0a32ff" stroke-width="1.1" />
<circle cx="572.40" cy="633.20" r="2.7" fill="#000" stroke="none" stroke-width="0" />
<circle cx="565.30" cy="667.30" r="2.7" fill="#000" stroke="none" stroke-width="0" />
<circle cx="570.30" cy="670.00" r="2.7" fill="#000" stroke="none" stroke-width="0" />
<circle cx="575.10" cy="668.70" r="2.7" fill="#000" stroke="none" stroke-width="0" />
<circle cx="580.10" cy="667.70" r="2.7" fill="#000" stroke="none" stroke-width="0" />
<circle cx="565.30" cy="673.40" r="2.7" fill="#000" stroke="none" stroke-width="0" />
<circle cx="575.10" cy="676.40" r="2.7" fill="#000" stroke="none" stroke-width="0" />
<circle cx="570.30" cy="678.10" r="2.7" fill="#000" stroke="none" stroke-width="0" />
<circle cx="565.30" cy="681.30" r="2.7" fill="#000" stroke="none" stroke-width="0" />
<circle cx="580.10" cy="681.30" r="2.7" fill="#000" stroke="none" stroke-width="0" />
<circle cx="575.10" cy="684.50" r="2.7" fill="#000" stroke="none" stroke-width="0" />
<circle cx="570.30" cy="689.40" r="2.7" fill="#000" stroke="none" stroke-width="0" />
<path d="M595.40,622.15 L602.20,622.15 L598.80,615.82 Z" fill="#0a32ff"/>
<path d="M600.10,620.75 L606.90,620.75 L603.50,614.42 Z" fill="#0a32ff"/>
<path d="M604.80,621.45 L611.60,621.45 L608.20,615.12 Z" fill="#0a32ff"/>
<path d="M592.70,634.05 L599.50,634.05 L596.10,627.72 Z" fill="#0a32ff"/>
<path d="M597.40,634.05 L604.20,634.05 L600.80,627.72 Z" fill="#0a32ff"/>
<path d="M602.10,630.95 L608.90,630.95 L605.50,624.62 Z" fill="#0a32ff"/>
<path d="M607.50,634.05 L614.30,634.05 L610.90,627.72 Z" fill="#0a32ff"/>
<path d="M602.10,639.75 L608.90,639.75 L605.50,633.42 Z" fill="#0a32ff"/>
<path d="M592.70,644.45 L599.50,644.45 L596.10,638.12 Z" fill="#0a32ff"/>
<path d="M597.40,646.45 L604.20,646.45 L600.80,640.12 Z" fill="#0a32ff"/>
<path d="M598.10,659.35 L604.90,659.35 L601.50,653.02 Z" fill="#0a32ff"/>
<path d="M602.10,656.65 L608.90,656.65 L605.50,650.32 Z" fill="#0a32ff"/>
<path d="M572.00,614.50 L572.00,589.20 L603.10,589.20 L603.10,597.60" stroke="#000" stroke-width="1.5" fill="none" />
<polygon points="580.95,578.20 581.50,579.48 582.90,579.61 581.85,580.54 582.15,581.90 580.95,581.19 579.75,581.90 580.05,580.54 579.00,579.61 580.40,579.48" fill="#000"/>
<polygon points="585.45,578.20 586.00,579.48 587.40,579.61 586.35,580.54 586.65,581.90 585.45,581.19 584.25,581.90 584.55,580.54 583.50,579.61 584.90,579.48" fill="#000"/>
<polygon points="589.95,578.20 590.50,579.48 591.90,579.61 590.85,580.54 591.15,581.90 589.95,581.19 588.75,581.90 589.05,580.54 588.00,579.61 589.40,579.48" fill="#000"/>
<polygon points="594.45,578.20 595.00,579.48 596.40,579.61 595.35,580.54 595.65,581.90 594.45,581.19 593.25,581.90 593.55,580.54 592.50,579.61 593.90,579.48" fill="#000"/>
<text x="586.30" y="557.60" font-size="11.6" text-anchor="middle" dominant-baseline="central" fill="#7a7a7a" style="" >#688</text>
<line x1="573.40" y1="562.90" x2="599.20" y2="562.90" stroke="#7a7a7a" stroke-width="1.0" />
<text x="598.60" y="713.00" font-size="11.8" text-anchor="start" dominant-baseline="central" fill="#1234ff" style="font-weight:bold;" >ASNase</text>
<path d="M572.00,708.8 L572.00,731.0 L579.60,731.0" stroke="#000" stroke-width="1.3" fill="none" />
<text x="580.70" y="729.60" font-size="11.6" text-anchor="start" dominant-baseline="central" fill="#000" style="font-weight:bold;" >Vehicle</text>
<text x="4.50" y="774.50" font-size="17" font-weight="bold" fill="#000">j.</text>
<text x="85.60" y="785.00" font-size="11.6" text-anchor="middle" dominant-baseline="central" fill="#7a7a7a" style="" >#506</text>
<line x1="72.70" y1="790.30" x2="98.50" y2="790.30" stroke="#7a7a7a" stroke-width="1.0" />
<rect x="58.75" y="918.30" width="14.05" height="6.20" fill="#000" stroke="none" stroke-width="0" />
<rect x="77.30" y="879.20" width="14.60" height="45.30" fill="#78aef8" stroke="none" stroke-width="0" />
<rect x="96.60" y="870.90" width="14.30" height="53.60" fill="#0632fb" stroke="none" stroke-width="0" />
<line x1="84.60" y1="873.00" x2="84.60" y2="879.00" stroke="#78aef8" stroke-width="1.1" />
<line x1="81.00" y1="873.00" x2="88.20" y2="873.00" stroke="#78aef8" stroke-width="1.1" />
<line x1="103.90" y1="860.50" x2="103.90" y2="866.50" stroke="#0632fb" stroke-width="1.1" />
<line x1="100.30" y1="860.50" x2="107.50" y2="860.50" stroke="#0632fb" stroke-width="1.1" />
<line x1="51.00" y1="792.60" x2="51.00" y2="925.30" stroke="#000" stroke-width="1.6" />
<line x1="46.40" y1="924.50" x2="51.00" y2="924.50" stroke="#000" stroke-width="1.4" />
<text x="44.80" y="924.50" font-size="10.8" font-weight="bold" text-anchor="end" dominant-baseline="central">0</text>
<line x1="46.40" y1="898.26" x2="51.00" y2="898.26" stroke="#000" stroke-width="1.4" />
<text x="44.80" y="898.26" font-size="10.8" font-weight="bold" text-anchor="end" dominant-baseline="central">20</text>
<line x1="46.40" y1="872.02" x2="51.00" y2="872.02" stroke="#000" stroke-width="1.4" />
<text x="44.80" y="872.02" font-size="10.8" font-weight="bold" text-anchor="end" dominant-baseline="central">40</text>
<line x1="46.40" y1="845.78" x2="51.00" y2="845.78" stroke="#000" stroke-width="1.4" />
<text x="44.80" y="845.78" font-size="10.8" font-weight="bold" text-anchor="end" dominant-baseline="central">60</text>
<line x1="46.40" y1="819.54" x2="51.00" y2="819.54" stroke="#000" stroke-width="1.4" />
<text x="44.80" y="819.54" font-size="10.8" font-weight="bold" text-anchor="end" dominant-baseline="central">80</text>
<line x1="46.40" y1="793.30" x2="51.00" y2="793.30" stroke="#000" stroke-width="1.4" />
<text x="44.80" y="793.30" font-size="10.8" font-weight="bold" text-anchor="end" dominant-baseline="central">100</text>
<line x1="50.20" y1="924.50" x2="118.40" y2="924.50" stroke="#000" stroke-width="1.6" />
<line x1="65.30" y1="924.50" x2="65.30" y2="928.30" stroke="#000" stroke-width="1.4" />
<line x1="84.80" y1="924.50" x2="84.80" y2="928.30" stroke="#000" stroke-width="1.4" />
<line x1="103.90" y1="924.50" x2="103.90" y2="928.30" stroke="#000" stroke-width="1.4" />
<circle cx="65.60" cy="910.90" r="2.45" fill="#fff" stroke="#000" stroke-width="0.85" />
<circle cx="62.70" cy="914.40" r="2.45" fill="#fff" stroke="#000" stroke-width="0.85" />
<circle cx="68.40" cy="914.70" r="2.45" fill="#fff" stroke="#000" stroke-width="0.85" />
<circle cx="60.60" cy="917.20" r="2.45" fill="#fff" stroke="#000" stroke-width="0.85" />
<circle cx="65.80" cy="916.70" r="2.45" fill="#fff" stroke="#000" stroke-width="0.85" />
<circle cx="70.80" cy="917.20" r="2.45" fill="#fff" stroke="#000" stroke-width="0.85" />
<circle cx="79.70" cy="874.80" r="2.45" fill="#fff" stroke="#000" stroke-width="0.85" />
<circle cx="83.30" cy="877.70" r="2.45" fill="#fff" stroke="#000" stroke-width="0.85" />
<circle cx="86.40" cy="874.50" r="2.45" fill="#fff" stroke="#000" stroke-width="0.85" />
<circle cx="89.50" cy="873.30" r="2.45" fill="#fff" stroke="#000" stroke-width="0.85" />
<circle cx="84.80" cy="883.90" r="2.45" fill="#fff" stroke="#000" stroke-width="0.85" />
<circle cx="84.80" cy="890.90" r="2.45" fill="#fff" stroke="#000" stroke-width="0.85" />
<circle cx="103.60" cy="859.70" r="2.45" fill="#fff" stroke="#000" stroke-width="0.85" />
<circle cx="98.90" cy="865.60" r="2.45" fill="#fff" stroke="#000" stroke-width="0.85" />
<circle cx="103.60" cy="868.30" r="2.45" fill="#fff" stroke="#000" stroke-width="0.85" />
<circle cx="108.60" cy="866.30" r="2.45" fill="#fff" stroke="#000" stroke-width="0.85" />
<circle cx="103.90" cy="878.75" r="2.45" fill="#fff" stroke="#000" stroke-width="0.85" />
<circle cx="103.90" cy="887.30" r="2.45" fill="#fff" stroke="#000" stroke-width="0.85" />
<path d="M65.30,891.70 L65.30,858.40 L85.20,858.40 L85.20,865.20" stroke="#000" stroke-width="1.5" fill="none" />
<path d="M65.30,842.80 L65.30,829.70 L103.90,829.70 L103.90,835.50" stroke="#000" stroke-width="1.5" fill="none" />
<polygon points="67.92,847.26 68.52,848.65 70.02,848.78 68.89,849.78 69.22,851.24 67.92,850.48 66.63,851.24 66.96,849.78 65.83,848.78 67.33,848.65" fill="#000"/>
<polygon points="72.77,847.26 73.37,848.65 74.87,848.78 73.74,849.78 74.07,851.24 72.77,850.48 71.48,851.24 71.81,849.78 70.68,848.78 72.18,848.65" fill="#000"/>
<polygon points="77.62,847.26 78.22,848.65 79.72,848.78 78.59,849.78 78.92,851.24 77.62,850.48 76.33,851.24 76.66,849.78 75.53,848.78 77.03,848.65" fill="#000"/>
<polygon points="82.47,847.26 83.07,848.65 84.57,848.78 83.44,849.78 83.77,851.24 82.47,850.48 81.18,851.24 81.51,849.78 80.38,848.78 81.88,848.65" fill="#000"/>
<polygon points="77.22,818.26 77.82,819.65 79.32,819.78 78.19,820.78 78.52,822.24 77.22,821.48 75.93,822.24 76.26,820.78 75.13,819.78 76.63,819.65" fill="#000"/>
<polygon points="82.07,818.26 82.67,819.65 84.17,819.78 83.04,820.78 83.37,822.24 82.07,821.48 80.78,822.24 81.11,820.78 79.98,819.78 81.48,819.65" fill="#000"/>
<polygon points="86.92,818.26 87.52,819.65 89.02,819.78 87.89,820.78 88.22,822.24 86.92,821.48 85.63,822.24 85.96,820.78 84.83,819.78 86.33,819.65" fill="#000"/>
<polygon points="91.77,818.26 92.37,819.65 93.87,819.78 92.74,820.78 93.07,822.24 91.77,821.48 90.48,822.24 90.81,820.78 89.68,819.78 91.18,819.65" fill="#000"/>
<text x="15.30" y="857.00" font-size="11.2" text-anchor="middle" dominant-baseline="central" fill="#000" style="font-weight:bold;" transform="rotate(-90 15.30 857.00)" >% dead cells (DAPI+)</text>
<text x="65.30" y="939.00" font-size="11.7" text-anchor="middle" dominant-baseline="central" fill="#000" style="" >+</text>
<text x="84.80" y="939.00" font-size="11.7" text-anchor="middle" dominant-baseline="central" fill="#000" style="" >-</text>
<text x="103.90" y="939.00" font-size="11.7" text-anchor="middle" dominant-baseline="central" fill="#000" style="" >+</text>
<text x="65.30" y="954.10" font-size="11.7" text-anchor="middle" dominant-baseline="central" fill="#000" style="" >-</text>
<text x="84.80" y="954.10" font-size="11.7" text-anchor="middle" dominant-baseline="central" fill="#000" style="" >-</text>
<text x="103.90" y="954.10" font-size="11.7" text-anchor="middle" dominant-baseline="central" fill="#000" style="" >+</text>
<text x="117.90" y="939.00" font-size="11.7" text-anchor="start" dominant-baseline="central" fill="#000" style="" >: Asn</text>
<text x="117.90" y="954.10" font-size="11.7" text-anchor="start" dominant-baseline="central" fill="#000" style="" >: ASNase</text>
<text x="356.50" y="774.00" font-size="17" font-weight="bold" fill="#000">l.</text>
<text x="437.90" y="765.80" font-size="11.6" text-anchor="middle" dominant-baseline="central" fill="#7a7a7a" style="" >#506</text>
<line x1="425.00" y1="771.10" x2="450.80" y2="771.10" stroke="#7a7a7a" stroke-width="1.0" />
<rect x="417.20" y="888.60" width="14.40" height="37.50" fill="#000" stroke="none" stroke-width="0" />
<rect x="436.25" y="849.50" width="14.35" height="76.60" fill="#78aef8" stroke="none" stroke-width="0" />
<rect x="455.00" y="844.00" width="14.00" height="82.10" fill="#0632fb" stroke="none" stroke-width="0" />
<line x1="424.20" y1="884.50" x2="424.20" y2="890.50" stroke="#000" stroke-width="1.1" />
<line x1="420.60" y1="884.50" x2="427.80" y2="884.50" stroke="#000" stroke-width="1.1" />
<line x1="443.30" y1="837.30" x2="443.30" y2="843.30" stroke="#78aef8" stroke-width="1.1" />
<line x1="439.50" y1="837.30" x2="447.10" y2="837.30" stroke="#78aef8" stroke-width="1.1" />
<line x1="462.00" y1="834.90" x2="462.00" y2="840.90" stroke="#0632fb" stroke-width="1.1" />
<line x1="458.20" y1="834.90" x2="465.80" y2="834.90" stroke="#0632fb" stroke-width="1.1" />
<line x1="410.20" y1="794.50" x2="410.20" y2="926.90" stroke="#000" stroke-width="1.6" />
<line x1="406.80" y1="926.10" x2="410.20" y2="926.10" stroke="#000" stroke-width="1.4" />
<text x="405.00" y="926.10" font-size="11.3" font-weight="bold" text-anchor="end" dominant-baseline="central">0</text>
<line x1="406.80" y1="904.28" x2="410.20" y2="904.28" stroke="#000" stroke-width="1.4" />
<text x="405.00" y="904.68" font-size="11.3" font-weight="bold" text-anchor="end" dominant-baseline="central">1×10<tspan font-size="7.7" dx="0.9" dy="-4.1">7</tspan></text>
<line x1="406.80" y1="882.46" x2="410.20" y2="882.46" stroke="#000" stroke-width="1.4" />
<text x="405.00" y="882.86" font-size="11.3" font-weight="bold" text-anchor="end" dominant-baseline="central">2×10<tspan font-size="7.7" dx="0.9" dy="-4.1">7</tspan></text>
<line x1="406.80" y1="860.64" x2="410.20" y2="860.64" stroke="#000" stroke-width="1.4" />
<text x="405.00" y="861.04" font-size="11.3" font-weight="bold" text-anchor="end" dominant-baseline="central">3×10<tspan font-size="7.7" dx="0.9" dy="-4.1">7</tspan></text>
<line x1="406.80" y1="838.82" x2="410.20" y2="838.82" stroke="#000" stroke-width="1.4" />
<text x="405.00" y="839.22" font-size="11.3" font-weight="bold" text-anchor="end" dominant-baseline="central">4×10<tspan font-size="7.7" dx="0.9" dy="-4.1">7</tspan></text>
<line x1="406.80" y1="817.00" x2="410.20" y2="817.00" stroke="#000" stroke-width="1.4" />
<text x="405.00" y="817.40" font-size="11.3" font-weight="bold" text-anchor="end" dominant-baseline="central">5×10<tspan font-size="7.7" dx="0.9" dy="-4.1">7</tspan></text>
<line x1="406.80" y1="795.18" x2="410.20" y2="795.18" stroke="#000" stroke-width="1.4" />
<text x="405.00" y="795.58" font-size="11.3" font-weight="bold" text-anchor="end" dominant-baseline="central">6×10<tspan font-size="7.7" dx="0.9" dy="-4.1">7</tspan></text>
<line x1="409.40" y1="926.10" x2="476.60" y2="926.10" stroke="#000" stroke-width="1.6" />
<line x1="424.20" y1="926.10" x2="424.20" y2="929.90" stroke="#000" stroke-width="1.4" />
<line x1="443.30" y1="926.10" x2="443.30" y2="929.90" stroke="#000" stroke-width="1.4" />
<line x1="462.00" y1="926.10" x2="462.00" y2="929.90" stroke="#000" stroke-width="1.4" />
<circle cx="424.20" cy="883.10" r="2.45" fill="#fff" stroke="#000" stroke-width="0.85" />
<circle cx="419.40" cy="888.10" r="2.45" fill="#fff" stroke="#000" stroke-width="0.85" />
<circle cx="424.20" cy="888.10" r="2.45" fill="#fff" stroke="#000" stroke-width="0.85" />
<circle cx="429.20" cy="890.20" r="2.45" fill="#fff" stroke="#000" stroke-width="0.85" />
<circle cx="419.40" cy="894.40" r="2.45" fill="#fff" stroke="#000" stroke-width="0.85" />
<circle cx="424.20" cy="894.40" r="2.45" fill="#fff" stroke="#000" stroke-width="0.85" />
<circle cx="429.20" cy="895.90" r="2.45" fill="#fff" stroke="#000" stroke-width="0.85" />
<circle cx="419.40" cy="899.50" r="2.45" fill="#fff" stroke="#000" stroke-width="0.85" />
<circle cx="443.30" cy="832.00" r="2.45" fill="#fff" stroke="#000" stroke-width="0.85" />
<circle cx="443.30" cy="839.10" r="2.45" fill="#fff" stroke="#000" stroke-width="0.85" />
<circle cx="438.30" cy="846.10" r="2.45" fill="#fff" stroke="#000" stroke-width="0.85" />
<circle cx="443.30" cy="847.50" r="2.45" fill="#fff" stroke="#000" stroke-width="0.85" />
<circle cx="448.30" cy="846.10" r="2.45" fill="#fff" stroke="#000" stroke-width="0.85" />
<circle cx="443.30" cy="856.90" r="2.45" fill="#fff" stroke="#000" stroke-width="0.85" />
<circle cx="448.30" cy="856.60" r="2.45" fill="#fff" stroke="#000" stroke-width="0.85" />
<circle cx="443.30" cy="870.90" r="2.45" fill="#fff" stroke="#000" stroke-width="0.85" />
<circle cx="462.00" cy="830.00" r="2.45" fill="#fff" stroke="#000" stroke-width="0.85" />
<circle cx="457.30" cy="838.60" r="2.45" fill="#fff" stroke="#000" stroke-width="0.85" />
<circle cx="462.00" cy="838.10" r="2.45" fill="#fff" stroke="#000" stroke-width="0.85" />
<circle cx="467.00" cy="839.10" r="2.45" fill="#fff" stroke="#000" stroke-width="0.85" />
<circle cx="467.00" cy="847.70" r="2.45" fill="#fff" stroke="#000" stroke-width="0.85" />
<circle cx="462.00" cy="852.20" r="2.45" fill="#fff" stroke="#000" stroke-width="0.85" />
<circle cx="467.00" cy="853.10" r="2.45" fill="#fff" stroke="#000" stroke-width="0.85" />
<circle cx="457.30" cy="855.80" r="2.45" fill="#fff" stroke="#000" stroke-width="0.85" />
<path d="M424.20,871.40 L424.20,815.60 L443.75,815.60 L443.75,825.60" stroke="#000" stroke-width="1.5" fill="none" />
<path d="M424.20,801.10 L424.20,790.60 L462.00,790.60 L462.00,801.10" stroke="#000" stroke-width="1.5" fill="none" />
<polygon points="427.23,804.86 427.82,806.25 429.32,806.38 428.19,807.38 428.52,808.84 427.23,808.08 425.93,808.84 426.26,807.38 425.13,806.38 426.63,806.25" fill="#000"/>
<polygon points="432.08,804.86 432.67,806.25 434.17,806.38 433.04,807.38 433.37,808.84 432.08,808.08 430.78,808.84 431.11,807.38 429.98,806.38 431.48,806.25" fill="#000"/>
<polygon points="436.93,804.86 437.52,806.25 439.02,806.38 437.89,807.38 438.22,808.84 436.93,808.08 435.63,808.84 435.96,807.38 434.83,806.38 436.33,806.25" fill="#000"/>
<polygon points="441.78,804.86 442.37,806.25 443.87,806.38 442.74,807.38 443.07,808.84 441.78,808.08 440.48,808.84 440.81,807.38 439.68,806.38 441.18,806.25" fill="#000"/>
<polygon points="435.83,780.06 436.42,781.45 437.92,781.58 436.79,782.58 437.12,784.04 435.83,783.28 434.53,784.04 434.86,782.58 433.73,781.58 435.23,781.45" fill="#000"/>
<polygon points="440.68,780.06 441.27,781.45 442.77,781.58 441.64,782.58 441.97,784.04 440.68,783.28 439.38,784.04 439.71,782.58 438.58,781.58 440.08,781.45" fill="#000"/>
<polygon points="445.53,780.06 446.12,781.45 447.62,781.58 446.49,782.58 446.82,784.04 445.53,783.28 444.23,784.04 444.56,782.58 443.43,781.58 444.93,781.45" fill="#000"/>
<polygon points="450.38,780.06 450.97,781.45 452.47,781.58 451.34,782.58 451.67,784.04 450.38,783.28 449.08,784.04 449.41,782.58 448.28,781.58 449.78,781.45" fill="#000"/>
<text x="363.10" y="857.70" font-size="11.2" text-anchor="middle" dominant-baseline="central" fill="#000" style="font-weight:bold;" transform="rotate(-90 363.10 857.70)" >Total serine (peak area)</text>
<text x="424.20" y="939.00" font-size="11.7" text-anchor="middle" dominant-baseline="central" fill="#000" style="" >+</text>
<text x="443.30" y="939.00" font-size="11.7" text-anchor="middle" dominant-baseline="central" fill="#000" style="" >-</text>
<text x="462.00" y="939.00" font-size="11.7" text-anchor="middle" dominant-baseline="central" fill="#000" style="" >+</text>
<text x="424.20" y="954.10" font-size="11.7" text-anchor="middle" dominant-baseline="central" fill="#000" style="" >-</text>
<text x="443.30" y="954.10" font-size="11.7" text-anchor="middle" dominant-baseline="central" fill="#000" style="" >-</text>
<text x="462.00" y="954.10" font-size="11.7" text-anchor="middle" dominant-baseline="central" fill="#000" style="" >+</text>
<text x="476.10" y="939.00" font-size="11.7" text-anchor="start" dominant-baseline="central" fill="#000" style="" >: Asn</text>
<text x="476.10" y="954.10" font-size="11.7" text-anchor="start" dominant-baseline="central" fill="#000" style="" >: ASNase</text>
<text x="507.00" y="774.00" font-size="17" font-weight="bold" fill="#000">m.</text>
<text x="595.50" y="765.80" font-size="11.6" text-anchor="middle" dominant-baseline="central" fill="#7a7a7a" style="" >#506</text>
<line x1="582.60" y1="771.10" x2="608.40" y2="771.10" stroke="#7a7a7a" stroke-width="1.0" />
<rect x="576.00" y="888.10" width="14.70" height="37.80" fill="#000" stroke="none" stroke-width="0" />
<rect x="595.00" y="866.90" width="14.60" height="59.00" fill="#78aef8" stroke="none" stroke-width="0" />
<rect x="614.10" y="861.10" width="14.20" height="64.80" fill="#0632fb" stroke="none" stroke-width="0" />
<line x1="583.00" y1="872.30" x2="583.00" y2="878.30" stroke="#000" stroke-width="1.1" />
<line x1="579.40" y1="872.30" x2="586.60" y2="872.30" stroke="#000" stroke-width="1.1" />
<line x1="602.10" y1="856.40" x2="602.10" y2="862.40" stroke="#78aef8" stroke-width="1.1" />
<line x1="598.30" y1="856.40" x2="605.90" y2="856.40" stroke="#78aef8" stroke-width="1.1" />
<line x1="621.10" y1="855.60" x2="621.10" y2="861.60" stroke="#0632fb" stroke-width="1.1" />
<line x1="617.30" y1="855.60" x2="624.90" y2="855.60" stroke="#0632fb" stroke-width="1.1" />
<line x1="568.80" y1="794.30" x2="568.80" y2="926.70" stroke="#000" stroke-width="1.6" />
<line x1="565.40" y1="925.90" x2="568.80" y2="925.90" stroke="#000" stroke-width="1.4" />
<text x="563.70" y="925.90" font-size="11.3" font-weight="bold" text-anchor="end" dominant-baseline="central">0</text>
<line x1="565.40" y1="904.08" x2="568.80" y2="904.08" stroke="#000" stroke-width="1.4" />
<text x="563.70" y="904.48" font-size="11.3" font-weight="bold" text-anchor="end" dominant-baseline="central">1×10<tspan font-size="7.7" dx="0.9" dy="-4.1">7</tspan></text>
<line x1="565.40" y1="882.26" x2="568.80" y2="882.26" stroke="#000" stroke-width="1.4" />
<text x="563.70" y="882.66" font-size="11.3" font-weight="bold" text-anchor="end" dominant-baseline="central">2×10<tspan font-size="7.7" dx="0.9" dy="-4.1">7</tspan></text>
<line x1="565.40" y1="860.44" x2="568.80" y2="860.44" stroke="#000" stroke-width="1.4" />
<text x="563.70" y="860.84" font-size="11.3" font-weight="bold" text-anchor="end" dominant-baseline="central">3×10<tspan font-size="7.7" dx="0.9" dy="-4.1">7</tspan></text>
<line x1="565.40" y1="838.62" x2="568.80" y2="838.62" stroke="#000" stroke-width="1.4" />
<text x="563.70" y="839.02" font-size="11.3" font-weight="bold" text-anchor="end" dominant-baseline="central">4×10<tspan font-size="7.7" dx="0.9" dy="-4.1">7</tspan></text>
<line x1="565.40" y1="816.80" x2="568.80" y2="816.80" stroke="#000" stroke-width="1.4" />
<text x="563.70" y="817.20" font-size="11.3" font-weight="bold" text-anchor="end" dominant-baseline="central">5×10<tspan font-size="7.7" dx="0.9" dy="-4.1">7</tspan></text>
<line x1="565.40" y1="794.98" x2="568.80" y2="794.98" stroke="#000" stroke-width="1.4" />
<text x="563.70" y="795.38" font-size="11.3" font-weight="bold" text-anchor="end" dominant-baseline="central">6×10<tspan font-size="7.7" dx="0.9" dy="-4.1">7</tspan></text>
<line x1="568.00" y1="925.90" x2="635.70" y2="925.90" stroke="#000" stroke-width="1.6" />
<line x1="583.00" y1="925.90" x2="583.00" y2="929.70" stroke="#000" stroke-width="1.4" />
<line x1="602.10" y1="925.90" x2="602.10" y2="929.70" stroke="#000" stroke-width="1.4" />
<line x1="621.10" y1="925.90" x2="621.10" y2="929.70" stroke="#000" stroke-width="1.4" />
<circle cx="578.30" cy="879.80" r="2.45" fill="#fff" stroke="#000" stroke-width="0.85" />
<circle cx="583.80" cy="877.80" r="2.45" fill="#fff" stroke="#000" stroke-width="0.85" />
<circle cx="588.00" cy="879.80" r="2.45" fill="#fff" stroke="#000" stroke-width="0.85" />
<circle cx="584.10" cy="883.75" r="2.45" fill="#fff" stroke="#000" stroke-width="0.85" />
<circle cx="583.00" cy="925.90" r="2.45" fill="#fff" stroke="#000" stroke-width="0.85" />
<circle cx="602.10" cy="853.30" r="2.45" fill="#fff" stroke="#000" stroke-width="0.85" />
<circle cx="600.50" cy="861.10" r="2.45" fill="#fff" stroke="#000" stroke-width="0.85" />
<circle cx="603.90" cy="862.20" r="2.45" fill="#fff" stroke="#000" stroke-width="0.85" />
<circle cx="597.40" cy="865.30" r="2.45" fill="#fff" stroke="#000" stroke-width="0.85" />
<circle cx="607.10" cy="865.80" r="2.45" fill="#fff" stroke="#000" stroke-width="0.85" />
<circle cx="603.90" cy="868.90" r="2.45" fill="#fff" stroke="#000" stroke-width="0.85" />
<circle cx="602.10" cy="886.60" r="2.45" fill="#fff" stroke="#000" stroke-width="0.85" />
<circle cx="621.10" cy="852.80" r="2.45" fill="#fff" stroke="#000" stroke-width="0.85" />
<circle cx="626.30" cy="853.75" r="2.45" fill="#fff" stroke="#000" stroke-width="0.85" />
<circle cx="616.10" cy="856.40" r="2.45" fill="#fff" stroke="#000" stroke-width="0.85" />
<circle cx="626.30" cy="859.50" r="2.45" fill="#fff" stroke="#000" stroke-width="0.85" />
<circle cx="616.10" cy="862.20" r="2.45" fill="#fff" stroke="#000" stroke-width="0.85" />
<circle cx="621.10" cy="865.30" r="2.45" fill="#fff" stroke="#000" stroke-width="0.85" />
<circle cx="626.30" cy="865.80" r="2.45" fill="#fff" stroke="#000" stroke-width="0.85" />
<circle cx="616.10" cy="869.40" r="2.45" fill="#fff" stroke="#000" stroke-width="0.85" />
<path d="M583.00,865.80 L583.00,834.80 L603.30,834.80 L603.30,844.70" stroke="#000" stroke-width="1.5" fill="none" />
<path d="M583.00,820.20 L583.00,810.00 L621.60,810.00 L621.60,820.20" stroke="#000" stroke-width="1.5" fill="none" />
<polygon points="590.78,823.96 591.37,825.35 592.87,825.48 591.74,826.48 592.07,827.94 590.78,827.18 589.48,827.94 589.81,826.48 588.68,825.48 590.18,825.35" fill="#000"/>
<polygon points="595.63,823.96 596.22,825.35 597.72,825.48 596.59,826.48 596.92,827.94 595.63,827.18 594.33,827.94 594.66,826.48 593.53,825.48 595.03,825.35" fill="#000"/>
<polygon points="597.35,799.16 597.94,800.55 599.44,800.68 598.31,801.68 598.64,803.14 597.35,802.38 596.06,803.14 596.39,801.68 595.26,800.68 596.76,800.55" fill="#000"/>
<polygon points="602.20,799.16 602.79,800.55 604.29,800.68 603.16,801.68 603.49,803.14 602.20,802.38 600.91,803.14 601.24,801.68 600.11,800.68 601.61,800.55" fill="#000"/>
<polygon points="607.05,799.16 607.64,800.55 609.14,800.68 608.01,801.68 608.34,803.14 607.05,802.38 605.76,803.14 606.09,801.68 604.96,800.68 606.46,800.55" fill="#000"/>
<text x="520.80" y="859.00" font-size="11.2" text-anchor="middle" dominant-baseline="central" fill="#000" style="font-weight:bold;" transform="rotate(-90 520.80 859.00)" >Total glycine (peak area)</text>
<text x="583.00" y="939.00" font-size="11.7" text-anchor="middle" dominant-baseline="central" fill="#000" style="" >+</text>
<text x="602.10" y="939.00" font-size="11.7" text-anchor="middle" dominant-baseline="central" fill="#000" style="" >-</text>
<text x="621.10" y="939.00" font-size="11.7" text-anchor="middle" dominant-baseline="central" fill="#000" style="" >+</text>
<text x="583.00" y="954.10" font-size="11.7" text-anchor="middle" dominant-baseline="central" fill="#000" style="" >-</text>
<text x="602.10" y="954.10" font-size="11.7" text-anchor="middle" dominant-baseline="central" fill="#000" style="" >-</text>
<text x="621.10" y="954.10" font-size="11.7" text-anchor="middle" dominant-baseline="central" fill="#000" style="" >+</text>
<text x="635.10" y="939.00" font-size="11.7" text-anchor="start" dominant-baseline="central" fill="#000" style="" >: Asn</text>
<text x="635.10" y="954.10" font-size="11.7" text-anchor="start" dominant-baseline="central" fill="#000" style="" >: ASNase</text>
<text x="162.50" y="774.00" font-size="17" font-weight="bold" fill="#000">k.</text>
<text x="182.20" y="785.20" font-size="11.6" text-anchor="middle" dominant-baseline="central" fill="#7a7a7a" style="" >#506</text>
<line x1="169.30" y1="790.50" x2="195.10" y2="790.50" stroke="#7a7a7a" stroke-width="1.0" />
<path d="M204.4,769.6 L200.2,769.6 L200.2,798.3 L204.4,798.3" stroke="#999" stroke-width="1.1" fill="none" />
<line x1="207.20" y1="776.60" x2="226.60" y2="776.60" stroke="#000" stroke-width="1.4" />
<circle cx="216.90" cy="776.60" r="2.7" fill="#000" stroke="none" stroke-width="0" />
<text x="232.60" y="775.90" font-size="10.6" text-anchor="start" dominant-baseline="central" fill="#000" style="" >+ Asn</text>
<line x1="207.20" y1="792.20" x2="226.60" y2="792.20" stroke="#78aef8" stroke-width="1.4" />
<rect x="213.90" y="789.20" width="6.00" height="6.00" fill="#78aef8" stroke="none" stroke-width="0" />
<text x="232.60" y="791.80" font-size="10.6" text-anchor="start" dominant-baseline="central" fill="#000" style="" >- Asn</text>
<line x1="270.40" y1="776.60" x2="290.40" y2="776.60" stroke="#0632fb" stroke-width="1.4" />
<path d="M280.7,773.3 L284.0,776.6 L280.7,779.9 L277.4,776.6 Z" fill="#0632fb"/>
<text x="295.90" y="775.90" font-size="10.6" text-anchor="start" dominant-baseline="central" fill="#000" style="" >+ Asn</text>
<text x="295.90" y="787.90" font-size="10.6" text-anchor="start" dominant-baseline="central" fill="#000" style="" >+ ASNase</text>
<line x1="224.10" y1="811.80" x2="224.10" y2="926.10" stroke="#000" stroke-width="1.6" />
<line x1="219.70" y1="925.30" x2="224.10" y2="925.30" stroke="#000" stroke-width="1.4" />
<text x="215.80" y="925.30" font-size="10.9" font-weight="bold" text-anchor="end" dominant-baseline="central">0</text>
<line x1="221.10" y1="911.20" x2="224.10" y2="911.20" stroke="#000" stroke-width="1.4" />
<line x1="219.70" y1="897.10" x2="224.10" y2="897.10" stroke="#000" stroke-width="1.4" />
<text x="215.80" y="897.10" font-size="10.9" font-weight="bold" text-anchor="end" dominant-baseline="central">5</text>
<line x1="221.10" y1="883.00" x2="224.10" y2="883.00" stroke="#000" stroke-width="1.4" />
<line x1="219.70" y1="868.90" x2="224.10" y2="868.90" stroke="#000" stroke-width="1.4" />
<text x="215.80" y="868.90" font-size="10.9" font-weight="bold" text-anchor="end" dominant-baseline="central">10</text>
<line x1="221.10" y1="854.80" x2="224.10" y2="854.80" stroke="#000" stroke-width="1.4" />
<line x1="219.70" y1="840.70" x2="224.10" y2="840.70" stroke="#000" stroke-width="1.4" />
<text x="215.80" y="840.70" font-size="10.9" font-weight="bold" text-anchor="end" dominant-baseline="central">15</text>
<line x1="221.10" y1="826.60" x2="224.10" y2="826.60" stroke="#000" stroke-width="1.4" />
<line x1="219.70" y1="812.50" x2="224.10" y2="812.50" stroke="#000" stroke-width="1.4" />
<text x="215.80" y="812.50" font-size="10.9" font-weight="bold" text-anchor="end" dominant-baseline="central">20</text>
<line x1="223.30" y1="925.30" x2="306.80" y2="925.30" stroke="#000" stroke-width="1.6" />
<line x1="224.10" y1="925.30" x2="224.10" y2="929.10" stroke="#000" stroke-width="1.4" />
<text x="224.10" y="937.40" font-size="10.8" text-anchor="middle" dominant-baseline="central" fill="#000" style="font-weight:bold;" >0</text>
<line x1="244.65" y1="925.30" x2="244.65" y2="929.10" stroke="#000" stroke-width="1.4" />
<text x="244.65" y="937.40" font-size="10.8" text-anchor="middle" dominant-baseline="central" fill="#000" style="font-weight:bold;" >1</text>
<line x1="265.20" y1="925.30" x2="265.20" y2="929.10" stroke="#000" stroke-width="1.4" />
<text x="265.20" y="937.40" font-size="10.8" text-anchor="middle" dominant-baseline="central" fill="#000" style="font-weight:bold;" >2</text>
<line x1="285.75" y1="925.30" x2="285.75" y2="929.10" stroke="#000" stroke-width="1.4" />
<text x="285.75" y="937.40" font-size="10.8" text-anchor="middle" dominant-baseline="central" fill="#000" style="font-weight:bold;" >3</text>
<line x1="306.30" y1="925.30" x2="306.30" y2="929.10" stroke="#000" stroke-width="1.4" />
<text x="306.30" y="937.40" font-size="10.8" text-anchor="middle" dominant-baseline="central" fill="#000" style="font-weight:bold;" >4</text>
<text x="265.40" y="949.90" font-size="10.8" text-anchor="middle" dominant-baseline="central" fill="#000" style="font-weight:bold;" >Days</text>
<text x="179.40" y="866.00" font-size="11.2" text-anchor="middle" dominant-baseline="central" fill="#000" style="font-weight:bold;" transform="rotate(-90 179.40 866.00)" >Total live cell number</text>
<text x="193.8" y="866.5" font-size="11.2" font-weight="bold" text-anchor="middle" dominant-baseline="central" transform="rotate(-90 193.8 866.5)">(x10<tspan font-size="7.4" dy="-4.2">6</tspan><tspan dy="4.2">)</tspan></text>
<path d="M224.10,916.40 L244.65,913.10 L265.20,907.60 L285.75,901.50 L306.30,887.90" stroke="#0632fb" stroke-width="1.4" fill="none" />
<line x1="306.30" y1="880.90" x2="306.30" y2="894.20" stroke="#0632fb" stroke-width="1.1" />
<line x1="303.10" y1="880.90" x2="309.50" y2="880.90" stroke="#0632fb" stroke-width="1.1" />
<line x1="303.10" y1="894.20" x2="309.50" y2="894.20" stroke="#0632fb" stroke-width="1.1" />
<path d="M224.10,913.00 L227.50,916.40 L224.10,919.80 L220.70,916.40 Z" fill="#0632fb"/>
<path d="M244.65,909.70 L248.05,913.10 L244.65,916.50 L241.25,913.10 Z" fill="#0632fb"/>
<path d="M265.20,904.20 L268.60,907.60 L265.20,911.00 L261.80,907.60 Z" fill="#0632fb"/>
<path d="M285.75,898.10 L289.15,901.50 L285.75,904.90 L282.35,901.50 Z" fill="#0632fb"/>
<path d="M306.30,884.50 L309.70,887.90 L306.30,891.30 L302.90,887.90 Z" fill="#0632fb"/>
<path d="M224.10,916.40 L244.65,911.40 L265.20,898.40 L285.75,880.40 L306.30,852.60" stroke="#78aef8" stroke-width="1.4" fill="none" />
<rect x="303.20" y="849.20" width="6.20" height="7.70" fill="#78aef8" stroke="none" stroke-width="0" />
<rect x="221.10" y="913.40" width="6.00" height="6.00" fill="#78aef8" stroke="none" stroke-width="0" />
<rect x="241.65" y="908.40" width="6.00" height="6.00" fill="#78aef8" stroke="none" stroke-width="0" />
<rect x="262.20" y="895.40" width="6.00" height="6.00" fill="#78aef8" stroke="none" stroke-width="0" />
<rect x="282.75" y="877.40" width="6.00" height="6.00" fill="#78aef8" stroke="none" stroke-width="0" />
<rect x="303.30" y="849.60" width="6.00" height="6.00" fill="#78aef8" stroke="none" stroke-width="0" />
<path d="M224.10,916.40 L244.65,891.50 L265.20,828.20" stroke="#000" stroke-width="1.4" fill="none" />
<circle cx="224.10" cy="916.40" r="2.85" fill="#000" stroke="none" stroke-width="0" />
<circle cx="244.65" cy="891.50" r="2.85" fill="#000" stroke="none" stroke-width="0" />
<circle cx="265.20" cy="828.20" r="2.85" fill="#000" stroke="none" stroke-width="0" />
</svg>
</body></html>
